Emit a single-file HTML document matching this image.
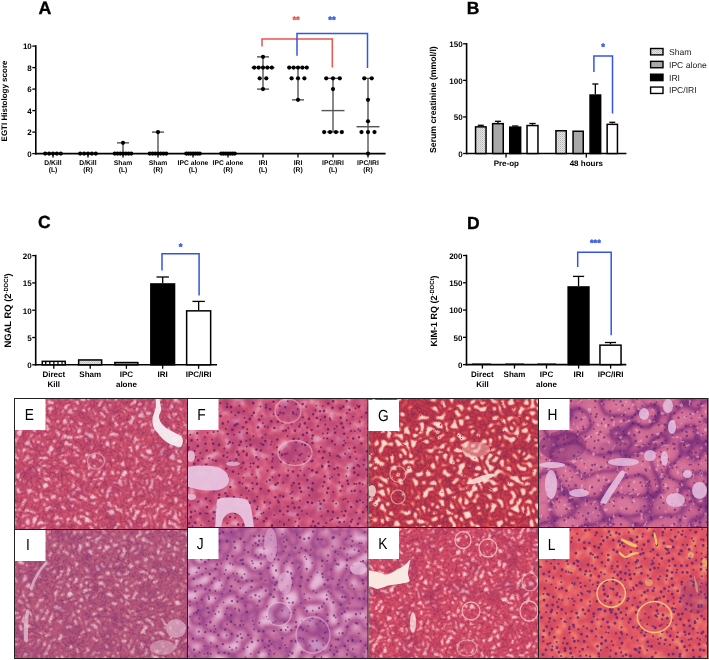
<!DOCTYPE html>
<html><head><meta charset="utf-8"><style>
html,body{margin:0;padding:0;background:#fff;width:709px;height:660px;overflow:hidden}
svg{position:absolute;left:0;top:0;display:block;will-change:transform}
text{font-family:"Liberation Sans", sans-serif;text-rendering:geometricPrecision}
</style></head><body>
<svg width="709" height="660" viewBox="0 0 709 660">
<defs>
<pattern id="dotpat" width="2" height="2" patternUnits="userSpaceOnUse"><rect width="2" height="2" fill="#e4e4e4"/><rect width="1" height="1" fill="#b8b8b8"/><rect x="1" y="1" width="1" height="1" fill="#c8c8c8"/></pattern>
<pattern id="vstripe" width="4.1" height="10" patternUnits="userSpaceOnUse"><rect width="4.1" height="10" fill="#fff"/><rect width="1.2" height="10" fill="#000"/></pattern>
</defs>
<defs>
<filter id="nb" x="-5%" y="-5%" width="110%" height="110%"><feGaussianBlur stdDeviation="0.45"/></filter>
<filter id="rE" x="0" y="0" width="100%" height="100%" color-interpolation-filters="sRGB"><feTurbulence type="turbulence" baseFrequency="0.17" numOctaves="2" seed="3"/><feColorMatrix type="matrix" values="1 0 0 0 0 1 0 0 0 0 1 0 0 0 0 0 0 0 0 1"/><feComponentTransfer><feFuncR type="table" tableValues="0.541 0.590 0.639 0.682 0.722 0.761 0.772 0.777 0.782 0.786 0.791 0.795 0.800 0.809 0.818 0.827 0.836 0.849 0.865 0.881 0.897 0.910 0.913 0.916 0.919 0.922 0.925 0.928 0.930 0.933 0.936 0.939 0.942 0.945 0.948 0.950 0.953 0.956 0.959 0.962 0.965"/><feFuncG type="table" tableValues="0.204 0.220 0.237 0.253 0.270 0.287 0.295 0.301 0.306 0.312 0.318 0.324 0.329 0.354 0.379 0.404 0.429 0.473 0.530 0.588 0.645 0.693 0.704 0.716 0.728 0.740 0.752 0.764 0.775 0.787 0.799 0.811 0.823 0.835 0.847 0.858 0.870 0.882 0.894 0.906 0.918"/><feFuncB type="table" tableValues="0.408 0.405 0.401 0.402 0.404 0.407 0.412 0.416 0.421 0.425 0.430 0.435 0.439 0.461 0.482 0.503 0.525 0.565 0.619 0.672 0.726 0.770 0.779 0.788 0.797 0.806 0.815 0.824 0.833 0.842 0.851 0.860 0.869 0.878 0.887 0.896 0.905 0.914 0.923 0.932 0.941"/></feComponentTransfer><feGaussianBlur stdDeviation="0.55"/></filter>
<filter id="fE0" x="0" y="0" width="100%" height="100%" color-interpolation-filters="sRGB"><feTurbulence type="fractalNoise" baseFrequency="0.05" numOctaves="2" seed="31"/><feColorMatrix type="matrix" values="0 0 0 0 0.604 0 0 0 0 0.212 0 0 0 0 0.439 1 0 0 0 0"/><feComponentTransfer><feFuncA type="table" tableValues="0.150 0.150 0.150 0.150 0.150 0.150 0.150 0.150 0.075 0.000 0.000 0.000 0.000 0.000 0.000 0.000 0.000 0.000 0.000 0.000 0.000"/></feComponentTransfer></filter>
<clipPath id="cpE"><rect x="15" y="399" width="172.5" height="130.5"/></clipPath>
<filter id="rF" x="0" y="0" width="100%" height="100%" color-interpolation-filters="sRGB"><feTurbulence type="fractalNoise" baseFrequency="0.1" numOctaves="2" seed="5"/><feColorMatrix type="matrix" values="1 0 0 0 0 1 0 0 0 0 1 0 0 0 0 0 0 0 0 1"/><feComponentTransfer><feFuncR type="table" tableValues="0.659 0.666 0.672 0.679 0.686 0.692 0.699 0.706 0.713 0.719 0.726 0.733 0.739 0.746 0.753 0.765 0.776 0.788 0.800 0.812 0.824 0.828 0.833 0.838 0.843 0.848 0.853 0.858 0.863 0.868 0.872 0.876 0.880 0.883 0.887 0.891 0.895 0.898 0.902 0.906 0.910"/><feFuncG type="table" tableValues="0.251 0.254 0.258 0.261 0.264 0.268 0.271 0.275 0.278 0.281 0.285 0.288 0.291 0.295 0.298 0.306 0.314 0.322 0.329 0.337 0.345 0.360 0.375 0.389 0.404 0.422 0.453 0.484 0.515 0.546 0.571 0.586 0.601 0.616 0.631 0.646 0.661 0.676 0.691 0.706 0.722"/><feFuncB type="table" tableValues="0.431 0.433 0.435 0.436 0.438 0.440 0.441 0.443 0.445 0.446 0.448 0.450 0.452 0.453 0.455 0.460 0.465 0.471 0.476 0.481 0.486 0.498 0.509 0.521 0.532 0.546 0.573 0.599 0.625 0.651 0.672 0.685 0.697 0.710 0.723 0.736 0.749 0.762 0.774 0.787 0.800"/></feComponentTransfer><feGaussianBlur stdDeviation="0.3"/></filter>
<filter id="fF0" x="0" y="0" width="100%" height="100%" color-interpolation-filters="sRGB"><feTurbulence type="fractalNoise" baseFrequency="0.04" numOctaves="2" seed="37"/><feColorMatrix type="matrix" values="0 0 0 0 0.690 0 0 0 0 0.251 0 0 0 0 0.463 1 0 0 0 0"/><feComponentTransfer><feFuncA type="table" tableValues="0.300 0.300 0.300 0.300 0.300 0.300 0.300 0.300 0.187 0.000 0.000 0.000 0.000 0.000 0.000 0.000 0.000 0.000 0.000 0.000 0.000"/></feComponentTransfer></filter>
<clipPath id="cpF"><rect x="188" y="399" width="180" height="128.5"/></clipPath>
<filter id="rG" x="0" y="0" width="100%" height="100%" color-interpolation-filters="sRGB"><feTurbulence type="turbulence" baseFrequency="0.15" numOctaves="1" seed="7"/><feColorMatrix type="matrix" values="1 0 0 0 0 1 0 0 0 0 1 0 0 0 0 0 0 0 0 1"/><feComponentTransfer><feFuncR type="table" tableValues="0.573 0.651 0.707 0.758 0.774 0.781 0.789 0.796 0.809 0.831 0.854 0.882 0.915 0.942 0.948 0.954 0.960 0.965 0.967 0.968 0.970 0.971 0.973 0.974 0.976 0.977 0.979 0.980 0.982 0.983 0.985 0.986 0.988 0.989 0.991 0.992 0.994 0.995 0.997 0.998 1.000"/><feFuncG type="table" tableValues="0.188 0.195 0.205 0.217 0.224 0.229 0.235 0.240 0.268 0.329 0.391 0.488 0.609 0.712 0.744 0.775 0.806 0.832 0.837 0.842 0.847 0.851 0.856 0.861 0.865 0.870 0.875 0.880 0.884 0.889 0.894 0.899 0.903 0.908 0.913 0.918 0.922 0.927 0.932 0.936 0.941"/><feFuncB type="table" tableValues="0.306 0.312 0.301 0.285 0.287 0.292 0.297 0.303 0.320 0.357 0.393 0.471 0.575 0.665 0.696 0.728 0.759 0.785 0.791 0.796 0.802 0.807 0.812 0.818 0.823 0.829 0.834 0.839 0.845 0.850 0.856 0.861 0.867 0.872 0.877 0.883 0.888 0.894 0.899 0.904 0.910"/></feComponentTransfer><feGaussianBlur stdDeviation="0.5"/></filter>
<clipPath id="cpG"><rect x="368.5" y="399" width="170" height="128.5"/></clipPath>
<filter id="rH" x="0" y="0" width="100%" height="100%" color-interpolation-filters="sRGB"><feTurbulence type="turbulence" baseFrequency="0.045" numOctaves="1" seed="11"/><feColorMatrix type="matrix" values="1 0 0 0 0 1 0 0 0 0 1 0 0 0 0 0 0 0 0 1"/><feComponentTransfer><feFuncR type="table" tableValues="0.494 0.556 0.627 0.706 0.749 0.786 0.794 0.802 0.809 0.817 0.821 0.825 0.830 0.834 0.838 0.843 0.847 0.848 0.850 0.851 0.852 0.854 0.855 0.856 0.858 0.859 0.860 0.861 0.863 0.864 0.865 0.867 0.868 0.869 0.871 0.872 0.873 0.875 0.876 0.877 0.878"/><feFuncG type="table" tableValues="0.196 0.235 0.280 0.329 0.360 0.386 0.396 0.406 0.416 0.425 0.430 0.436 0.441 0.446 0.452 0.457 0.463 0.464 0.466 0.468 0.469 0.471 0.473 0.474 0.476 0.477 0.479 0.481 0.482 0.484 0.486 0.487 0.489 0.491 0.492 0.494 0.495 0.497 0.499 0.500 0.502"/><feFuncB type="table" tableValues="0.471 0.510 0.531 0.541 0.550 0.558 0.564 0.570 0.576 0.581 0.584 0.588 0.591 0.594 0.597 0.601 0.604 0.606 0.607 0.609 0.610 0.612 0.614 0.615 0.617 0.619 0.620 0.622 0.624 0.625 0.627 0.628 0.630 0.632 0.633 0.635 0.637 0.638 0.640 0.642 0.643"/></feComponentTransfer><feGaussianBlur stdDeviation="0.8"/></filter>
<filter id="fH0" x="0" y="0" width="100%" height="100%" color-interpolation-filters="sRGB"><feTurbulence type="fractalNoise" baseFrequency="0.25" numOctaves="1" seed="211"/><feColorMatrix type="matrix" values="0 0 0 0 0.949 0 0 0 0 0.737 0 0 0 0 0.831 1 0 0 0 0"/><feComponentTransfer><feFuncA type="table" tableValues="0.000 0.000 0.000 0.000 0.000 0.000 0.000 0.000 0.000 0.000 0.000 0.000 0.000 0.100 0.500 0.500 0.500 0.500 0.500 0.500 0.500"/></feComponentTransfer><feGaussianBlur stdDeviation="0.6"/></filter>
<filter id="fH1" x="0" y="0" width="100%" height="100%" color-interpolation-filters="sRGB"><feTurbulence type="fractalNoise" baseFrequency="0.03" numOctaves="2" seed="212"/><feColorMatrix type="matrix" values="0 0 0 0 0.478 0 0 0 0 0.180 0 0 0 0 0.471 1 0 0 0 0"/><feComponentTransfer><feFuncA type="table" tableValues="0.200 0.200 0.200 0.200 0.200 0.200 0.200 0.125 0.000 0.000 0.000 0.000 0.000 0.000 0.000 0.000 0.000 0.000 0.000 0.000 0.000"/></feComponentTransfer></filter>
<clipPath id="cpH"><rect x="539" y="399" width="168.5" height="128.5"/></clipPath>
<filter id="rI" x="0" y="0" width="100%" height="100%" color-interpolation-filters="sRGB"><feTurbulence type="turbulence" baseFrequency="0.17" numOctaves="2" seed="13"/><feColorMatrix type="matrix" values="1 0 0 0 0 1 0 0 0 0 1 0 0 0 0 0 0 0 0 1"/><feComponentTransfer><feFuncR type="table" tableValues="0.478 0.531 0.583 0.624 0.658 0.691 0.701 0.705 0.710 0.714 0.718 0.722 0.726 0.732 0.744 0.757 0.769 0.782 0.799 0.816 0.834 0.852 0.864 0.869 0.873 0.877 0.882 0.886 0.890 0.894 0.899 0.903 0.907 0.911 0.916 0.920 0.924 0.928 0.933 0.937 0.941"/><feFuncG type="table" tableValues="0.227 0.244 0.260 0.280 0.303 0.325 0.333 0.337 0.341 0.345 0.349 0.353 0.357 0.366 0.391 0.416 0.441 0.466 0.506 0.551 0.595 0.640 0.671 0.682 0.692 0.703 0.714 0.724 0.735 0.746 0.756 0.767 0.777 0.788 0.799 0.809 0.820 0.831 0.841 0.852 0.863"/><feFuncB type="table" tableValues="0.455 0.455 0.455 0.458 0.464 0.469 0.472 0.474 0.476 0.478 0.480 0.483 0.485 0.490 0.508 0.525 0.543 0.561 0.599 0.642 0.684 0.727 0.756 0.765 0.773 0.782 0.790 0.799 0.808 0.816 0.825 0.833 0.842 0.850 0.859 0.867 0.876 0.884 0.893 0.901 0.910"/></feComponentTransfer><feGaussianBlur stdDeviation="0.55"/></filter>
<filter id="fI0" x="0" y="0" width="100%" height="100%" color-interpolation-filters="sRGB"><feTurbulence type="fractalNoise" baseFrequency="0.05" numOctaves="2" seed="47"/><feColorMatrix type="matrix" values="0 0 0 0 0.533 0 0 0 0 0.196 0 0 0 0 0.439 1 0 0 0 0"/><feComponentTransfer><feFuncA type="table" tableValues="0.200 0.200 0.200 0.200 0.200 0.200 0.200 0.200 0.125 0.000 0.000 0.000 0.000 0.000 0.000 0.000 0.000 0.000 0.000 0.000 0.000"/></feComponentTransfer></filter>
<clipPath id="cpI"><rect x="15" y="530" width="172.5" height="128.5"/></clipPath>
<filter id="rJ" x="0" y="0" width="100%" height="100%" color-interpolation-filters="sRGB"><feTurbulence type="turbulence" baseFrequency="0.07" numOctaves="1" seed="17"/><feColorMatrix type="matrix" values="1 0 0 0 0 1 0 0 0 0 1 0 0 0 0 0 0 0 0 1"/><feComponentTransfer><feFuncR type="table" tableValues="0.604 0.653 0.698 0.737 0.751 0.759 0.767 0.775 0.784 0.794 0.804 0.814 0.824 0.839 0.855 0.871 0.886 0.889 0.891 0.893 0.895 0.898 0.900 0.902 0.905 0.907 0.909 0.911 0.914 0.916 0.918 0.921 0.923 0.925 0.927 0.930 0.932 0.934 0.937 0.939 0.941"/><feFuncG type="table" tableValues="0.290 0.325 0.359 0.393 0.408 0.418 0.427 0.437 0.458 0.480 0.503 0.526 0.549 0.584 0.620 0.655 0.690 0.695 0.701 0.706 0.711 0.716 0.722 0.727 0.732 0.737 0.742 0.748 0.753 0.758 0.763 0.769 0.774 0.779 0.784 0.790 0.795 0.800 0.805 0.810 0.816"/><feFuncB type="table" tableValues="0.557 0.572 0.586 0.601 0.609 0.615 0.620 0.626 0.641 0.657 0.673 0.690 0.706 0.735 0.765 0.794 0.824 0.827 0.831 0.834 0.838 0.842 0.845 0.849 0.852 0.856 0.859 0.863 0.867 0.870 0.874 0.877 0.881 0.885 0.888 0.892 0.895 0.899 0.903 0.906 0.910"/></feComponentTransfer><feGaussianBlur stdDeviation="0.8"/></filter>
<clipPath id="cpJ"><rect x="188" y="528" width="180" height="130.5"/></clipPath>
<filter id="rK" x="0" y="0" width="100%" height="100%" color-interpolation-filters="sRGB"><feTurbulence type="turbulence" baseFrequency="0.19" numOctaves="2" seed="19"/><feColorMatrix type="matrix" values="1 0 0 0 0 1 0 0 0 0 1 0 0 0 0 0 0 0 0 1"/><feComponentTransfer><feFuncR type="table" tableValues="0.541 0.603 0.665 0.714 0.753 0.792 0.804 0.808 0.813 0.818 0.822 0.827 0.831 0.840 0.849 0.858 0.867 0.880 0.896 0.912 0.928 0.942 0.944 0.947 0.949 0.951 0.954 0.956 0.959 0.961 0.964 0.966 0.969 0.971 0.974 0.976 0.978 0.981 0.983 0.986 0.988"/><feFuncG type="table" tableValues="0.173 0.199 0.225 0.244 0.258 0.272 0.279 0.285 0.291 0.296 0.302 0.308 0.314 0.342 0.371 0.399 0.428 0.476 0.536 0.597 0.657 0.708 0.720 0.731 0.742 0.754 0.765 0.777 0.788 0.800 0.811 0.823 0.834 0.845 0.857 0.868 0.880 0.891 0.903 0.914 0.925"/><feFuncB type="table" tableValues="0.361 0.361 0.361 0.366 0.374 0.383 0.387 0.391 0.394 0.397 0.401 0.404 0.408 0.433 0.458 0.483 0.508 0.550 0.603 0.657 0.710 0.755 0.765 0.775 0.784 0.794 0.804 0.814 0.824 0.833 0.843 0.853 0.863 0.873 0.882 0.892 0.902 0.912 0.922 0.931 0.941"/></feComponentTransfer><feGaussianBlur stdDeviation="0.55"/></filter>
<filter id="fK0" x="0" y="0" width="100%" height="100%" color-interpolation-filters="sRGB"><feTurbulence type="fractalNoise" baseFrequency="0.05" numOctaves="2" seed="59"/><feColorMatrix type="matrix" values="0 0 0 0 0.604 0 0 0 0 0.188 0 0 0 0 0.376 1 0 0 0 0"/><feComponentTransfer><feFuncA type="table" tableValues="0.250 0.250 0.250 0.250 0.250 0.250 0.250 0.250 0.156 0.000 0.000 0.000 0.000 0.000 0.000 0.000 0.000 0.000 0.000 0.000 0.000"/></feComponentTransfer></filter>
<clipPath id="cpK"><rect x="368.5" y="528" width="170" height="130.5"/></clipPath>
<filter id="rL" x="0" y="0" width="100%" height="100%" color-interpolation-filters="sRGB"><feTurbulence type="fractalNoise" baseFrequency="0.1" numOctaves="2" seed="23"/><feColorMatrix type="matrix" values="1 0 0 0 0 1 0 0 0 0 1 0 0 0 0 0 0 0 0 1"/><feComponentTransfer><feFuncR type="table" tableValues="0.784 0.789 0.793 0.798 0.802 0.806 0.811 0.815 0.820 0.824 0.828 0.833 0.837 0.842 0.846 0.850 0.855 0.863 0.871 0.878 0.886 0.891 0.896 0.901 0.906 0.911 0.915 0.918 0.922 0.926 0.929 0.932 0.935 0.938 0.941 0.944 0.946 0.949 0.952 0.954 0.957"/><feFuncG type="table" tableValues="0.275 0.277 0.279 0.282 0.284 0.287 0.289 0.292 0.294 0.297 0.299 0.301 0.304 0.306 0.309 0.311 0.314 0.322 0.329 0.337 0.345 0.357 0.368 0.379 0.391 0.404 0.424 0.443 0.463 0.483 0.507 0.532 0.556 0.580 0.604 0.629 0.654 0.678 0.703 0.728 0.753"/><feFuncB type="table" tableValues="0.384 0.384 0.383 0.383 0.382 0.382 0.381 0.381 0.380 0.380 0.379 0.379 0.378 0.378 0.377 0.377 0.376 0.380 0.384 0.388 0.392 0.397 0.402 0.407 0.412 0.416 0.418 0.420 0.422 0.424 0.427 0.430 0.433 0.436 0.439 0.444 0.450 0.455 0.460 0.465 0.471"/></feComponentTransfer><feGaussianBlur stdDeviation="0.3"/></filter>
<clipPath id="cpL"><rect x="539" y="528" width="168.5" height="130.5"/></clipPath>
<filter id="soft" x="-10%" y="-10%" width="120%" height="120%"><feGaussianBlur stdDeviation="0.7"/></filter>
</defs>
<g clip-path="url(#cpE)">
<g transform="rotate(27 101.2 464.2)"><rect x="-8.8" y="354.2" width="220" height="220" filter="url(#rE)"/></g>
<rect x="15" y="399" width="172.5" height="130.5" filter="url(#fE0)"/>
<path d="M155.8,399 L159.7,399 C160,404 161.5,408 161.3,410 C160,413 158.5,416 159,418 C160,422 162,424 165,427 C170,431 177,433 181,436 C184,440 183,444 181,447 C177,447 172,445 168,443 C163,440 160,436 157,432 C153,428 152,424 152.6,418 C153,414 156,411 155.8,405 Z" fill="#f6eef4" opacity="0.95" filter="url(#soft)"/>
<ellipse cx="96.0" cy="461.0" rx="8.5" ry="8.0" fill="none" stroke="#e8b0c8" stroke-width="1.2" opacity="0.7" filter="url(#soft)"/>
</g>
<g clip-path="url(#cpF)">
<g transform="rotate(27 278.0 463.2)"><rect x="165.5" y="350.8" width="225" height="225" filter="url(#rF)"/></g>
<rect x="188" y="399" width="180" height="128.5" filter="url(#fF0)"/>
<path d="M204.9 406.5h0M220.3 403.0h0M227.2 404.0h0M239.5 405.8h0M260.5 406.4h0M266.2 404.7h0M279.7 405.9h0M287.8 401.1h0M296.1 404.0h0M306.3 406.7h0M316.4 405.6h0M322.8 406.1h0M357.3 405.4h0M359.6 406.0h0M189.4 409.3h0M198.1 410.2h0M206.4 412.0h0M213.4 410.0h0M218.4 409.2h0M231.4 412.2h0M243.8 411.3h0M297.7 409.3h0M315.4 410.5h0M355.6 408.5h0M368.2 408.3h0M211.7 416.1h0M235.3 415.1h0M244.7 417.8h0M251.9 415.5h0M261.6 415.9h0M273.6 414.3h0M278.4 414.9h0M296.3 414.6h0M302.9 417.2h0M329.8 418.2h0M346.8 413.2h0M353.1 416.6h0M361.6 417.0h0M193.4 423.2h0M207.3 420.5h0M216.8 424.2h0M227.9 421.8h0M262.9 423.1h0M282.5 422.9h0M291.5 423.9h0M300.3 424.1h0M320.5 419.7h0M325.4 424.5h0M330.4 420.0h0M346.8 420.3h0M350.3 423.5h0M359.6 421.6h0M190.7 429.0h0M197.4 426.3h0M200.0 425.2h0M208.1 426.9h0M225.9 429.0h0M247.4 429.2h0M264.9 426.4h0M267.8 427.2h0M288.3 428.2h0M307.1 427.4h0M334.3 428.7h0M336.8 426.3h0M358.4 429.1h0M190.3 434.8h0M207.7 432.8h0M213.7 432.0h0M217.7 431.5h0M234.0 434.7h0M239.6 432.2h0M253.4 436.0h0M265.4 434.6h0M283.2 431.0h0M287.6 435.9h0M322.9 433.5h0M327.4 433.2h0M351.1 430.9h0M354.7 431.1h0M360.1 430.8h0M368.1 435.2h0M197.4 439.7h0M205.0 437.1h0M212.0 439.8h0M246.3 441.0h0M250.0 439.7h0M262.2 437.6h0M271.7 441.8h0M298.7 438.7h0M306.9 442.1h0M312.0 438.5h0M323.6 438.3h0M327.1 438.5h0M344.1 440.6h0M347.6 437.6h0M228.3 443.8h0M232.8 443.0h0M246.7 446.4h0M261.1 443.4h0M270.9 444.4h0M277.1 447.3h0M296.1 442.3h0M302.2 444.3h0M320.9 447.2h0M335.1 444.4h0M345.5 443.0h0M194.7 451.0h0M200.2 453.0h0M224.3 448.5h0M227.4 452.6h0M246.9 453.5h0M287.2 453.5h0M295.6 450.2h0M301.7 453.9h0M311.8 454.0h0M329.5 453.2h0M345.1 453.8h0M349.3 448.5h0M355.3 451.8h0M195.5 456.9h0M202.3 458.6h0M209.1 458.2h0M212.9 459.9h0M227.3 457.3h0M258.4 459.5h0M266.5 459.3h0M272.8 458.8h0M298.1 460.0h0M308.7 456.2h0M329.9 455.4h0M340.0 457.3h0M356.4 458.7h0M364.3 459.9h0M230.1 460.6h0M234.2 461.7h0M250.6 463.5h0M272.1 461.3h0M293.7 461.1h0M312.8 460.5h0M321.8 465.4h0M363.5 464.7h0M215.5 467.6h0M241.3 467.6h0M245.7 469.1h0M250.4 466.8h0M267.5 470.8h0M288.2 470.5h0M300.4 470.6h0M309.1 468.6h0M347.4 467.9h0M359.5 466.4h0M208.3 475.8h0M238.6 473.7h0M243.3 477.6h0M251.9 474.5h0M256.2 477.5h0M272.4 477.2h0M304.3 475.3h0M317.3 472.1h0M331.9 477.1h0M346.4 476.1h0M193.4 481.8h0M212.1 483.5h0M242.4 483.5h0M252.3 483.0h0M266.7 481.5h0M283.1 482.7h0M329.9 478.6h0M339.2 482.3h0M354.1 483.7h0M368.5 482.4h0M188.8 487.6h0M207.6 488.4h0M211.1 487.6h0M252.8 488.8h0M291.7 485.8h0M323.0 486.3h0M356.2 484.0h0M362.7 484.3h0M241.3 495.1h0M248.8 490.7h0M280.0 495.7h0M290.6 493.8h0M292.5 491.9h0M309.3 495.4h0M333.2 492.0h0M340.6 490.8h0M351.6 491.0h0M360.3 491.4h0M188.0 499.5h0M198.8 501.1h0M210.4 500.9h0M246.8 497.9h0M257.2 496.8h0M277.8 500.4h0M292.0 498.0h0M300.0 500.8h0M307.4 501.6h0M319.5 501.1h0M333.0 500.9h0M343.4 499.6h0M345.4 498.8h0M360.1 500.3h0M189.7 505.3h0M197.7 502.1h0M229.4 504.5h0M243.8 503.8h0M257.6 506.5h0M270.1 502.8h0M292.7 503.0h0M336.1 503.6h0M347.8 501.7h0M363.0 502.5h0M195.0 510.9h0M205.7 513.1h0M216.2 512.1h0M242.6 511.3h0M248.7 509.7h0M263.5 512.7h0M269.3 508.5h0M302.0 511.0h0M320.3 508.8h0M341.8 511.6h0M356.3 512.5h0M207.6 513.6h0M223.2 518.5h0M235.1 517.8h0M245.8 517.4h0M261.5 513.8h0M274.5 515.2h0M283.3 514.6h0M299.5 518.7h0M306.9 513.6h0M321.5 516.2h0M332.2 519.2h0M352.1 519.4h0M201.2 525.1h0M208.8 521.1h0M227.3 523.3h0M257.4 519.2h0M272.2 525.3h0M279.8 521.6h0M284.0 523.8h0M288.9 520.0h0M295.5 521.5h0M326.4 523.0h0M330.3 520.2h0M344.1 521.7h0M192.4 526.2h0M198.7 528.5h0M220.2 525.8h0M262.0 530.1h0M283.9 525.2h0M293.6 527.1h0M298.7 525.9h0M311.0 526.1h0M327.1 530.1h0M339.1 527.9h0M349.6 526.3h0M356.9 527.7h0M361.3 529.1h0M368.0 530.4h0" stroke="#6a1e66" stroke-width="1.95" stroke-linecap="round" opacity="0.85" filter="url(#nb)"/>
<path d="M196.4 406.6h0M230.9 406.9h0M253.3 403.1h0M273.6 401.8h0M302.6 404.1h0M328.3 403.6h0M333.2 401.3h0M343.3 406.6h0M346.7 401.1h0M227.0 407.0h0M238.5 412.5h0M253.8 412.9h0M266.0 407.5h0M270.2 409.3h0M280.3 412.7h0M285.3 407.3h0M293.0 412.4h0M320.1 411.3h0M324.0 410.9h0M332.5 407.8h0M340.6 408.4h0M349.5 409.7h0M358.7 407.1h0M195.6 415.6h0M220.6 416.1h0M283.3 413.2h0M293.3 413.6h0M313.1 414.3h0M316.9 418.0h0M324.9 416.9h0M340.7 417.8h0M366.3 412.7h0M190.6 423.7h0M204.1 421.8h0M222.8 423.5h0M237.2 424.0h0M246.2 422.2h0M249.9 418.9h0M259.2 419.8h0M271.3 421.3h0M277.7 421.8h0M304.9 423.4h0M309.0 418.9h0M341.4 423.4h0M368.5 421.2h0M215.7 425.1h0M232.4 429.8h0M235.0 425.4h0M243.0 427.2h0M258.1 427.4h0M274.3 428.0h0M285.8 430.5h0M299.4 426.4h0M311.7 430.1h0M317.9 426.3h0M328.0 429.2h0M343.1 427.5h0M368.1 428.3h0M197.3 433.2h0M227.7 434.0h0M246.9 433.1h0M294.9 430.8h0M303.1 434.9h0M306.9 432.8h0M312.8 435.5h0M335.1 432.8h0M344.2 433.7h0M191.5 440.4h0M229.8 442.1h0M240.8 441.9h0M265.4 441.1h0M277.3 439.5h0M293.7 439.1h0M332.1 441.2h0M353.3 438.6h0M359.1 437.2h0M371.2 441.2h0M188.6 447.5h0M197.8 446.1h0M205.5 443.7h0M213.2 443.6h0M219.0 444.9h0M239.4 445.0h0M250.6 445.1h0M263.2 444.7h0M305.1 444.9h0M312.4 443.0h0M343.5 445.2h0M354.5 447.8h0M361.5 443.5h0M370.1 446.2h0M187.9 449.1h0M206.7 450.6h0M214.3 450.3h0M237.4 451.9h0M243.5 451.3h0M256.5 449.5h0M260.7 450.5h0M272.7 454.3h0M279.0 452.2h0M285.2 454.0h0M319.1 451.5h0M324.3 451.8h0M366.8 451.3h0M223.5 455.8h0M236.2 459.5h0M238.6 454.6h0M246.7 455.2h0M256.4 457.3h0M282.1 454.7h0M299.8 455.2h0M322.7 457.9h0M337.8 456.0h0M350.0 457.2h0M194.2 463.8h0M198.3 460.3h0M206.2 464.8h0M215.9 460.7h0M243.2 462.7h0M253.5 463.3h0M281.1 461.6h0M287.6 463.8h0M304.5 462.0h0M311.5 461.3h0M328.5 461.9h0M358.0 465.3h0M189.4 471.2h0M194.8 470.5h0M201.8 466.2h0M208.5 470.5h0M226.3 468.7h0M233.1 471.6h0M257.9 466.9h0M272.1 467.5h0M293.0 471.5h0M312.2 470.4h0M322.4 466.7h0M329.0 466.0h0M334.5 469.0h0M337.6 467.7h0M353.9 468.1h0M366.6 469.5h0M192.1 472.2h0M198.8 477.3h0M205.6 477.2h0M227.9 476.6h0M279.2 475.4h0M287.6 475.5h0M297.9 475.5h0M316.4 472.6h0M324.7 476.5h0M338.7 474.8h0M354.4 472.6h0M358.2 475.0h0M368.2 475.8h0M191.1 480.4h0M205.0 479.5h0M217.9 483.6h0M224.4 483.7h0M239.6 482.5h0M257.0 483.9h0M269.8 480.0h0M277.7 483.1h0M293.6 483.1h0M299.0 483.8h0M307.3 480.1h0M312.9 483.3h0M324.2 482.0h0M347.4 480.7h0M359.6 483.2h0M196.4 484.7h0M223.3 486.5h0M230.2 487.0h0M246.3 488.1h0M260.7 488.7h0M275.6 484.6h0M300.0 488.1h0M308.5 487.7h0M311.9 488.9h0M328.1 488.4h0M342.3 486.2h0M348.2 483.9h0M369.4 487.1h0M214.0 490.3h0M219.2 494.7h0M225.4 493.3h0M268.7 490.7h0M301.1 491.7h0M312.5 490.1h0M327.1 492.8h0M354.8 490.8h0M367.9 494.5h0M206.0 498.5h0M218.7 498.0h0M227.2 496.2h0M233.9 497.2h0M239.9 498.7h0M254.5 501.1h0M275.3 497.2h0M283.3 496.5h0M324.1 500.4h0M357.1 501.4h0M368.2 500.0h0M206.9 507.1h0M217.0 507.4h0M225.5 506.7h0M241.1 503.1h0M249.7 502.8h0M264.6 502.3h0M278.7 502.3h0M287.9 506.5h0M299.1 507.5h0M307.9 502.3h0M312.1 502.9h0M320.6 503.7h0M351.2 507.0h0M367.0 506.7h0M191.2 512.1h0M213.7 512.2h0M233.4 508.2h0M235.5 513.1h0M256.9 509.1h0M280.1 510.9h0M287.6 511.2h0M294.4 507.8h0M327.9 511.2h0M333.1 512.0h0M345.5 511.1h0M363.0 512.3h0M368.5 509.3h0M190.8 517.1h0M200.2 513.6h0M213.2 518.5h0M230.1 517.0h0M239.2 513.6h0M254.8 518.2h0M266.4 518.5h0M297.6 514.7h0M337.7 518.0h0M344.1 515.5h0M359.5 518.5h0M189.2 523.3h0M195.2 522.7h0M217.1 523.9h0M238.3 524.5h0M243.3 524.5h0M249.7 520.3h0M263.9 521.3h0M313.1 521.5h0M318.5 523.5h0M339.6 522.3h0M351.2 521.6h0M357.9 523.7h0M368.1 522.2h0M207.6 529.3h0M210.9 527.8h0M223.5 530.1h0M231.0 530.2h0M245.9 528.7h0M251.9 530.6h0M272.0 525.9h0M290.5 528.5h0M315.2 526.3h0M323.6 527.3h0M337.5 527.4h0" stroke="#6a1e66" stroke-width="2.64" stroke-linecap="round" opacity="0.85" filter="url(#nb)"/>
<path d="M188,467 C196,465 208,465 217,467 C224,469 229,474 229,480 C229,486 223,490 214,490.5 C204,491 195,489 188,487 Z" fill="#e8c4e0" opacity="0.95" filter="url(#soft)"/>
<path d="M218,499 C226,497 240,497 247,500 C251,504 252,512 253,520 C253.5,524 254,527 254,528 L245,528 C245,520 240,513 233,512.5 C226,512.5 222,518 221,528 L215,528 C216,520 216,510 216.5,504 C217,501 217,500 218,499 Z" fill="#e8c4e0" opacity="0.95" filter="url(#soft)"/>
<ellipse cx="191.0" cy="456.2" rx="4.0" ry="5.8" fill="#e8c4e0" opacity="0.85" filter="url(#soft)"/>
<ellipse cx="191.5" cy="497.0" rx="4.5" ry="3.0" fill="#e8c4e0" opacity="0.8" filter="url(#soft)"/>
<ellipse cx="233.0" cy="463.8" rx="7.0" ry="2.2" fill="#e8c4e0" opacity="0.7" filter="url(#soft)"/>
<ellipse cx="288.0" cy="411.0" rx="13.0" ry="12.0" fill="none" stroke="#eec8dc" stroke-width="1.4" opacity="0.5" filter="url(#soft)"/>
<ellipse cx="288.0" cy="411.0" rx="10.0" ry="10.0" fill="#9a3a80" opacity="0.3" filter="url(#soft)"/>
<ellipse cx="295.0" cy="453.0" rx="17.0" ry="12.5" fill="none" stroke="#eec8dc" stroke-width="1.5" opacity="0.55" filter="url(#soft)"/>
<ellipse cx="295.0" cy="453.0" rx="13.0" ry="10.0" fill="#9a3a80" opacity="0.3" filter="url(#soft)"/>
</g>
<g clip-path="url(#cpG)">
<g transform="rotate(27 453.5 463.2)"><rect x="345.0" y="354.8" width="217" height="217" filter="url(#rG)"/></g>
<ellipse cx="476.0" cy="449.5" rx="14.0" ry="7.5" fill="#f0b8b4" opacity="0.5" filter="url(#soft)"/>
<path d="M466,483 C472,479 480,476 488,474 C492,473 495,473 494,476 C490,479 484,481 478,483 C473,484.5 469,485 466,483 Z" fill="#f8e0d8" opacity="0.9" filter="url(#soft)"/>
<ellipse cx="372.0" cy="491.0" rx="4.0" ry="6.0" fill="#f6d8cc" opacity="0.85" filter="url(#soft)"/>
<ellipse cx="398.0" cy="474.0" rx="8.0" ry="8.0" fill="none" stroke="#f0c0b8" stroke-width="1.2" opacity="0.7" filter="url(#soft)"/>
<ellipse cx="398.0" cy="497.0" rx="7.0" ry="7.0" fill="none" stroke="#f0c0b8" stroke-width="1.2" opacity="0.7" filter="url(#soft)"/>
</g>
<g clip-path="url(#cpH)">
<g transform="rotate(27 623.2 463.2)"><rect x="515.8" y="355.8" width="215" height="215" filter="url(#rH)"/></g>
<rect x="539" y="399" width="168.5" height="128.5" filter="url(#fH0)"/>
<rect x="539" y="399" width="168.5" height="128.5" filter="url(#fH1)"/>
<path d="M554.2 401.6h0M601.9 401.0h0M609.5 399.5h0M613.7 400.7h0M636.8 399.2h0M650.3 403.1h0M656.4 402.1h0M691.1 403.7h0M701.2 403.7h0M564.6 404.8h0M571.1 409.6h0M595.0 407.3h0M604.0 404.4h0M616.0 404.6h0M642.2 405.8h0M671.6 407.6h0M697.6 405.2h0M708.5 405.0h0M582.3 412.2h0M590.9 414.0h0M623.9 414.7h0M651.7 416.1h0M665.6 414.9h0M682.1 412.6h0M690.6 414.1h0M695.4 412.0h0M589.9 420.5h0M614.0 416.3h0M641.5 418.7h0M686.2 416.4h0M691.4 418.3h0M709.1 416.9h0M546.7 426.7h0M583.2 426.4h0M593.9 422.3h0M601.6 423.5h0M618.3 427.0h0M638.5 424.4h0M651.3 424.2h0M671.8 426.8h0M706.1 422.5h0M544.8 430.6h0M577.8 431.5h0M593.9 428.8h0M610.4 430.6h0M623.2 431.3h0M664.7 429.9h0M672.0 430.0h0M681.9 430.5h0M693.5 431.7h0M702.6 433.6h0M547.4 436.5h0M591.0 436.9h0M599.0 434.5h0M618.1 435.0h0M672.2 435.0h0M682.3 440.3h0M695.2 437.4h0M707.2 435.9h0M585.8 441.7h0M594.6 441.0h0M616.5 443.1h0M620.3 444.7h0M625.4 443.7h0M643.4 444.5h0M649.1 444.1h0M656.0 445.0h0M675.0 444.3h0M553.4 451.6h0M558.9 452.5h0M565.9 449.3h0M578.4 452.3h0M589.1 450.1h0M637.2 446.7h0M650.1 450.7h0M660.8 451.7h0M667.5 449.0h0M685.4 447.4h0M689.4 451.4h0M705.6 451.1h0M538.1 453.1h0M550.9 456.8h0M557.2 457.7h0M580.5 458.7h0M646.9 456.9h0M655.6 454.9h0M691.9 452.5h0M707.0 453.7h0M546.2 459.5h0M551.6 461.7h0M561.3 462.6h0M568.3 464.5h0M576.7 459.1h0M584.3 463.8h0M607.5 462.4h0M643.0 461.4h0M689.4 464.7h0M691.2 464.7h0M698.5 464.5h0M705.7 460.2h0M549.1 465.8h0M553.5 465.4h0M579.1 470.3h0M608.2 467.6h0M621.5 464.8h0M628.3 469.1h0M661.3 469.9h0M672.5 468.2h0M676.8 467.2h0M693.2 470.2h0M700.5 470.4h0M555.8 471.9h0M563.6 475.5h0M570.1 470.8h0M579.8 472.0h0M617.1 471.8h0M634.7 475.3h0M646.3 470.9h0M662.5 472.2h0M665.1 476.5h0M540.3 477.6h0M550.2 477.3h0M572.2 477.2h0M655.0 479.8h0M662.8 478.9h0M673.3 479.6h0M681.6 481.2h0M694.0 482.7h0M703.8 481.2h0M564.6 487.8h0M568.8 485.5h0M604.1 486.3h0M642.2 486.1h0M645.6 485.8h0M655.7 484.5h0M663.7 485.2h0M689.0 488.5h0M585.0 489.5h0M663.6 490.2h0M673.4 493.4h0M679.0 492.8h0M550.6 501.3h0M572.3 500.2h0M580.2 496.0h0M597.8 499.4h0M606.3 499.9h0M613.9 501.0h0M632.8 497.3h0M653.2 497.2h0M690.9 501.2h0M551.8 504.4h0M559.5 502.2h0M568.2 501.8h0M570.2 501.8h0M591.1 503.8h0M609.5 502.1h0M613.8 506.0h0M632.3 502.3h0M652.4 506.0h0M689.6 501.8h0M556.5 507.4h0M571.7 510.3h0M578.6 512.8h0M600.0 510.1h0M636.7 511.2h0M659.7 507.8h0M689.2 510.3h0M548.2 517.7h0M557.2 517.7h0M574.6 517.6h0M583.0 515.7h0M598.4 515.5h0M602.8 519.4h0M621.2 516.5h0M643.5 517.7h0M677.0 517.1h0M696.5 516.1h0M545.2 521.9h0M572.4 525.7h0M581.7 525.6h0M604.4 521.3h0M607.9 524.4h0M635.4 522.7h0M662.8 525.4h0M554.1 527.5h0M573.0 525.7h0M599.1 527.0h0M610.6 529.2h0M628.6 530.7h0M639.0 527.6h0M646.5 529.6h0M659.7 528.1h0M666.2 529.1h0M680.6 525.7h0" stroke="#5a2070" stroke-width="1.78" stroke-linecap="round" opacity="0.65" filter="url(#nb)"/>
<path d="M557.9 401.6h0M570.9 401.0h0M595.3 401.1h0M620.7 401.4h0M631.5 397.7h0M665.8 401.4h0M675.4 397.7h0M547.8 406.7h0M579.5 408.2h0M622.6 405.4h0M628.9 408.6h0M654.9 404.4h0M676.2 406.4h0M542.0 412.7h0M545.4 415.7h0M555.0 414.3h0M566.3 412.1h0M596.8 414.1h0M610.1 411.3h0M634.8 415.0h0M644.9 411.1h0M658.3 413.2h0M674.3 413.4h0M702.2 415.9h0M710.6 412.5h0M562.6 418.5h0M565.6 418.5h0M576.2 417.8h0M581.3 419.4h0M595.8 416.7h0M604.1 419.2h0M611.7 420.1h0M623.8 420.4h0M632.3 417.4h0M655.1 416.2h0M678.5 417.7h0M699.6 421.7h0M608.4 425.2h0M632.9 423.3h0M641.1 426.8h0M658.6 425.1h0M665.1 424.6h0M686.0 426.0h0M694.4 425.9h0M560.4 429.8h0M566.3 430.3h0M583.5 428.8h0M600.4 431.9h0M639.2 432.3h0M661.2 433.1h0M686.5 431.9h0M544.1 439.0h0M558.2 439.1h0M563.9 439.5h0M567.6 437.7h0M576.9 437.1h0M585.5 436.5h0M604.2 437.4h0M624.6 435.0h0M634.3 435.1h0M646.8 436.8h0M652.5 435.0h0M658.4 438.0h0M665.5 440.1h0M686.9 436.0h0M544.1 445.9h0M556.7 445.6h0M564.6 444.1h0M569.4 443.6h0M598.3 440.3h0M635.6 441.2h0M662.1 442.9h0M673.4 443.7h0M684.1 445.1h0M697.5 443.4h0M706.1 440.9h0M543.1 446.8h0M594.3 447.9h0M602.7 448.9h0M608.5 451.9h0M620.7 451.8h0M639.4 447.2h0M654.5 448.5h0M674.2 448.5h0M695.8 452.4h0M574.0 455.8h0M604.0 457.2h0M610.8 453.2h0M621.0 454.0h0M625.9 455.3h0M629.9 457.4h0M637.9 455.9h0M659.5 456.8h0M664.9 455.1h0M679.7 456.5h0M699.8 458.5h0M595.0 464.6h0M614.1 459.9h0M660.8 462.3h0M667.6 459.2h0M674.7 463.2h0M575.5 467.2h0M591.2 470.0h0M592.3 465.1h0M601.2 466.9h0M645.6 469.5h0M664.0 465.7h0M708.8 470.2h0M547.7 472.9h0M584.7 473.3h0M625.8 474.4h0M638.6 474.2h0M683.5 472.3h0M701.5 473.4h0M557.3 477.6h0M566.3 481.1h0M581.7 479.1h0M598.7 480.5h0M606.3 479.9h0M626.7 477.4h0M640.5 482.4h0M649.5 481.5h0M669.7 477.8h0M547.4 486.9h0M558.5 489.0h0M575.9 485.4h0M592.1 487.3h0M609.8 484.8h0M617.9 485.1h0M628.8 486.1h0M667.9 488.3h0M679.9 484.1h0M706.5 484.7h0M538.3 492.1h0M547.5 492.3h0M564.0 494.8h0M576.7 489.6h0M594.5 493.7h0M617.9 492.7h0M633.4 489.6h0M647.8 493.0h0M650.7 495.0h0M656.4 491.9h0M687.3 495.3h0M695.5 491.0h0M702.1 490.2h0M706.6 492.1h0M548.7 497.8h0M557.0 499.2h0M569.4 500.3h0M586.8 501.0h0M622.4 497.8h0M645.1 496.3h0M660.9 497.4h0M681.8 496.6h0M685.1 500.1h0M698.4 497.2h0M603.9 504.1h0M644.5 506.3h0M663.5 502.9h0M672.2 503.4h0M676.1 505.5h0M700.5 507.2h0M706.9 505.9h0M566.5 509.1h0M588.2 513.2h0M595.9 508.3h0M626.4 508.7h0M640.6 510.9h0M674.8 509.7h0M698.9 509.9h0M706.6 508.1h0M539.1 519.2h0M568.4 517.5h0M586.2 519.3h0M611.4 518.3h0M619.9 515.9h0M650.8 517.4h0M671.1 517.1h0M685.2 516.6h0M554.6 520.8h0M564.5 520.3h0M585.0 524.8h0M613.6 524.1h0M621.0 524.5h0M651.6 519.6h0M674.1 524.2h0M680.4 519.7h0M695.8 520.7h0M699.8 522.4h0M706.8 522.1h0M539.4 530.2h0M549.1 527.3h0M579.1 527.0h0M587.5 525.6h0M604.7 527.0h0M634.8 531.6h0M697.3 527.2h0M704.2 531.0h0" stroke="#5a2070" stroke-width="2.42" stroke-linecap="round" opacity="0.65" filter="url(#nb)"/>
<ellipse cx="562.5" cy="446.0" rx="23.5" ry="15.0" fill="#7a2a72" opacity="0.45" filter="url(#soft)"/>
<ellipse cx="552.0" cy="465.0" rx="13.0" ry="3.0" fill="#e8c4e4" opacity="0.85" filter="url(#soft)"/>
<ellipse cx="551.0" cy="484.5" rx="6.0" ry="14.5" fill="#e8c4e4" opacity="0.8" filter="url(#soft)"/>
<ellipse cx="579.0" cy="493.0" rx="10.0" ry="4.0" fill="#e8c4e4" opacity="0.8" filter="url(#soft)"/>
<path d="M600,503 C604,494 612,483 620,472 C623,469 626,471 624,476 C618,486 611,496 606,504 Z" fill="#e8c4e4" opacity="0.85" filter="url(#soft)"/>
<ellipse cx="623.5" cy="462.0" rx="15.5" ry="4.0" fill="#e8c4e4" opacity="0.8" filter="url(#soft)"/>
<ellipse cx="672.0" cy="427.0" rx="4.0" ry="7.0" fill="#e8c4e4" opacity="0.85" filter="url(#soft)"/>
<ellipse cx="687.5" cy="474.0" rx="4.5" ry="4.0" fill="#e8c4e4" opacity="0.85" filter="url(#soft)"/>
<ellipse cx="699.5" cy="490.5" rx="7.5" ry="8.5" fill="#e8c4e4" opacity="0.85" filter="url(#soft)"/>
<ellipse cx="664.5" cy="458.5" rx="3.5" ry="7.5" fill="#e8c4e4" opacity="0.8" filter="url(#soft)"/>
<ellipse cx="644.0" cy="414.0" rx="5.0" ry="6.0" fill="#e8c4e4" opacity="0.8" filter="url(#soft)"/>
<ellipse cx="668.0" cy="406.0" rx="5.0" ry="7.0" fill="#e8c4e4" opacity="0.8" filter="url(#soft)"/>
<ellipse cx="650.0" cy="455.5" rx="6.0" ry="5.5" fill="#e8c4e4" opacity="0.8" filter="url(#soft)"/>
<ellipse cx="675.5" cy="500.0" rx="9.5" ry="7.0" fill="#e8c4e4" opacity="0.8" filter="url(#soft)"/>
</g>
<g clip-path="url(#cpI)">
<g transform="rotate(27 101.2 594.2)"><rect x="-8.2" y="484.8" width="219" height="219" filter="url(#rI)"/></g>
<rect x="15" y="530" width="172.5" height="128.5" filter="url(#fI0)"/>
<path d="M24,640 C23,630 24,620 26,611 C27,608 29,609 29,612 C28,621 28,631 28,641 C27,643 25,643 24,640 Z" fill="#e2c0d4" opacity="0.8" filter="url(#soft)"/>
<path d="M30,588 C33,578 38,570 45,562 C47,561 48,563 46,565 C40,572 35,580 33,589 C32,591 30,591 30,588 Z" fill="#e2c0d4" opacity="0.75" filter="url(#soft)"/>
<ellipse cx="176.0" cy="628.5" rx="10.0" ry="9.5" fill="#e6c4d8" opacity="0.6" filter="url(#soft)"/>
<ellipse cx="162.5" cy="647.5" rx="12.5" ry="7.5" fill="#e2bcd0" opacity="0.5" filter="url(#soft)"/>
</g>
<g clip-path="url(#cpJ)">
<g transform="rotate(27 278.0 593.2)"><rect x="165.0" y="480.2" width="226" height="226" filter="url(#rJ)"/></g>
<path d="M187.6 534.6h0M197.4 532.1h0M231.4 532.2h0M263.4 536.5h0M282.3 534.3h0M296.9 534.8h0M332.7 536.6h0M339.6 534.6h0M350.8 536.2h0M364.8 531.9h0M283.7 541.7h0M286.8 540.0h0M321.7 539.3h0M345.9 539.2h0M359.7 543.2h0M361.7 543.3h0M200.6 549.8h0M209.4 546.2h0M252.9 545.4h0M301.2 548.0h0M310.8 549.7h0M332.5 546.3h0M340.6 548.0h0M351.6 546.1h0M368.1 547.1h0M205.5 553.6h0M216.5 551.9h0M219.0 550.4h0M244.5 550.1h0M255.8 555.5h0M276.4 555.1h0M283.5 551.4h0M289.2 554.8h0M299.4 552.6h0M310.3 555.2h0M338.1 554.3h0M347.3 554.3h0M354.6 549.8h0M365.5 552.0h0M191.1 556.2h0M198.4 557.1h0M252.0 560.9h0M258.5 557.4h0M286.8 561.3h0M305.0 556.8h0M306.4 559.0h0M327.4 560.9h0M335.1 560.5h0M350.4 558.2h0M360.8 561.7h0M221.4 563.5h0M230.2 563.5h0M232.8 564.4h0M252.8 563.3h0M255.2 568.0h0M272.9 565.6h0M284.2 563.2h0M299.3 567.1h0M312.2 562.8h0M321.8 566.1h0M336.4 564.0h0M186.8 573.0h0M196.5 572.3h0M209.6 573.6h0M225.9 570.0h0M233.3 573.4h0M237.1 573.6h0M244.5 574.1h0M298.1 568.5h0M317.4 572.3h0M331.2 569.3h0M346.2 568.6h0M351.0 572.8h0M202.3 574.4h0M224.3 574.1h0M235.2 579.8h0M261.0 578.3h0M311.3 576.6h0M322.7 577.2h0M333.0 578.8h0M339.2 580.2h0M346.3 580.2h0M186.6 585.6h0M197.4 585.8h0M211.9 582.8h0M219.6 580.3h0M221.8 585.4h0M246.7 580.9h0M265.4 580.3h0M300.0 585.9h0M337.8 584.6h0M352.0 585.3h0M215.3 591.0h0M240.2 588.1h0M245.9 592.2h0M261.4 587.4h0M313.4 590.9h0M328.3 591.7h0M353.9 588.8h0M365.2 590.8h0M195.2 598.2h0M208.6 596.7h0M215.5 598.3h0M222.2 593.8h0M237.2 596.8h0M243.1 598.3h0M251.1 597.3h0M259.3 596.3h0M282.7 598.2h0M304.2 594.1h0M309.3 598.3h0M316.4 592.6h0M326.6 595.1h0M330.7 593.4h0M190.0 601.3h0M196.9 602.8h0M223.5 602.4h0M289.0 602.6h0M300.7 603.2h0M305.3 599.8h0M323.9 603.4h0M349.4 603.4h0M189.9 605.6h0M213.7 610.7h0M217.2 606.3h0M227.2 608.2h0M235.0 608.7h0M238.8 609.4h0M245.4 605.8h0M257.5 605.6h0M266.9 606.5h0M282.1 610.5h0M294.9 609.9h0M304.1 608.0h0M312.7 610.7h0M347.5 608.0h0M193.9 613.3h0M215.3 613.9h0M218.8 611.8h0M225.1 614.2h0M239.5 611.0h0M266.7 616.6h0M289.9 612.6h0M294.0 612.8h0M316.5 614.5h0M360.4 613.5h0M368.9 615.3h0M190.0 616.8h0M199.3 618.5h0M241.3 621.1h0M252.8 620.8h0M259.3 622.8h0M268.3 619.2h0M275.4 621.5h0M284.6 621.8h0M301.7 621.2h0M309.8 620.7h0M320.3 620.9h0M335.7 617.3h0M345.7 621.1h0M349.1 619.6h0M365.7 617.3h0M199.7 623.9h0M206.4 625.0h0M214.3 625.9h0M215.5 628.9h0M227.1 624.2h0M235.0 624.6h0M243.3 624.8h0M254.1 624.3h0M273.0 622.9h0M287.8 627.2h0M308.4 626.2h0M316.7 624.0h0M338.3 623.7h0M210.7 631.0h0M214.4 632.0h0M240.5 634.2h0M254.1 629.3h0M285.8 630.0h0M306.5 631.3h0M326.7 632.0h0M339.2 633.1h0M358.8 633.3h0M203.3 638.1h0M226.5 635.5h0M251.0 638.4h0M262.5 640.2h0M299.9 637.7h0M303.1 638.8h0M336.0 639.4h0M188.1 646.6h0M204.4 646.2h0M210.9 642.9h0M229.6 647.2h0M237.1 641.9h0M247.6 647.2h0M262.6 641.1h0M271.4 644.2h0M285.1 645.2h0M309.8 645.6h0M323.4 645.1h0M335.8 647.0h0M352.3 641.1h0M199.4 652.3h0M232.1 649.7h0M236.3 647.9h0M243.6 648.6h0M264.8 647.4h0M270.0 650.4h0M286.4 647.8h0M290.1 651.8h0M322.7 650.7h0M330.1 650.0h0M348.0 649.8h0M352.8 649.2h0M364.4 651.9h0M189.1 656.1h0M194.8 656.1h0M204.4 653.9h0M210.8 653.9h0M245.4 657.5h0M250.7 653.8h0M256.2 658.7h0M268.9 654.3h0M274.3 653.7h0M288.5 655.6h0M302.0 659.5h0M321.5 657.2h0M355.0 656.9h0M362.6 657.8h0" stroke="#5e2674" stroke-width="1.78" stroke-linecap="round" opacity="0.7" filter="url(#nb)"/>
<path d="M200.4 533.7h0M212.2 534.8h0M219.6 533.7h0M222.9 532.2h0M254.4 536.2h0M259.1 535.8h0M271.3 535.4h0M300.0 537.4h0M313.2 531.6h0M203.1 543.1h0M219.2 541.2h0M226.9 541.3h0M234.3 541.7h0M240.5 538.8h0M244.4 542.1h0M255.5 543.3h0M259.2 540.7h0M263.6 540.6h0M270.9 539.5h0M304.3 538.9h0M308.8 538.0h0M317.8 539.3h0M332.6 538.3h0M334.0 537.5h0M352.5 541.1h0M187.5 548.2h0M217.0 544.1h0M235.1 547.7h0M258.0 545.2h0M264.4 548.6h0M276.2 547.2h0M285.5 546.6h0M295.3 547.9h0M344.2 548.6h0M195.8 552.6h0M203.3 555.5h0M227.6 555.7h0M248.2 552.1h0M260.7 554.7h0M271.5 554.2h0M305.7 550.4h0M328.0 555.4h0M335.3 551.8h0M358.7 550.9h0M201.3 559.4h0M208.7 559.6h0M227.0 558.8h0M232.4 556.3h0M240.6 560.4h0M242.7 559.7h0M265.6 556.2h0M274.3 559.1h0M278.4 559.6h0M322.2 560.7h0M346.9 560.0h0M363.0 561.2h0M198.8 567.9h0M205.1 562.1h0M217.0 564.4h0M242.9 563.8h0M260.9 563.5h0M292.5 563.1h0M338.4 564.4h0M346.9 565.4h0M352.7 565.6h0M366.1 566.4h0M205.8 568.6h0M215.5 568.9h0M260.5 573.9h0M268.4 568.0h0M276.1 570.5h0M287.6 572.0h0M291.2 573.4h0M306.7 569.0h0M322.4 573.7h0M358.3 573.9h0M188.8 574.2h0M193.7 578.7h0M209.8 574.2h0M214.3 578.3h0M228.2 578.0h0M241.8 577.6h0M273.4 577.8h0M282.0 579.9h0M292.2 578.3h0M301.5 577.2h0M307.7 580.1h0M327.7 580.0h0M362.5 580.2h0M200.7 585.4h0M231.3 586.2h0M238.4 581.4h0M252.0 581.0h0M275.2 584.7h0M276.6 582.4h0M291.8 585.1h0M324.4 584.5h0M363.2 583.5h0M195.3 591.3h0M205.4 589.3h0M209.7 590.3h0M230.1 590.7h0M251.4 587.0h0M265.8 590.6h0M274.4 589.4h0M282.7 591.8h0M287.6 586.3h0M300.5 586.2h0M342.5 587.2h0M255.5 595.2h0M270.6 594.4h0M273.6 596.9h0M287.3 598.4h0M342.4 597.0h0M345.2 597.0h0M352.7 598.1h0M359.7 598.5h0M201.8 599.6h0M209.0 598.8h0M231.9 600.9h0M237.5 601.5h0M241.6 598.6h0M259.4 601.3h0M292.8 602.6h0M326.9 599.2h0M333.3 602.4h0M363.9 598.6h0M198.1 610.4h0M207.8 608.1h0M319.1 608.1h0M322.1 606.6h0M340.7 604.7h0M362.3 608.4h0M369.9 608.4h0M196.4 612.5h0M208.6 612.5h0M231.2 615.3h0M246.8 612.0h0M306.9 611.3h0M327.5 614.6h0M333.9 615.5h0M342.0 613.5h0M344.5 611.7h0M355.9 614.2h0M210.4 622.2h0M231.0 621.7h0M296.0 622.1h0M312.4 618.0h0M327.5 621.0h0M355.9 622.9h0M188.0 627.5h0M240.2 625.4h0M296.2 627.0h0M300.9 627.5h0M324.6 622.8h0M328.9 627.7h0M347.3 626.7h0M357.4 623.5h0M367.4 624.1h0M198.9 631.6h0M205.2 632.1h0M225.2 629.5h0M231.7 633.9h0M248.1 635.1h0M258.8 631.2h0M263.4 631.5h0M273.9 630.9h0M281.0 629.9h0M291.4 630.3h0M302.8 629.8h0M324.7 632.8h0M342.7 633.3h0M192.9 638.6h0M218.4 635.1h0M237.6 636.0h0M241.7 638.0h0M258.0 640.6h0M269.5 641.0h0M282.4 638.3h0M291.3 641.0h0M312.7 641.1h0M316.9 640.6h0M323.1 638.1h0M338.2 639.5h0M348.1 640.7h0M352.5 639.9h0M217.0 646.2h0M222.8 644.1h0M252.1 642.0h0M268.7 646.0h0M296.0 641.2h0M331.2 645.7h0M344.8 646.0h0M360.7 641.2h0M365.6 645.4h0M194.1 649.8h0M207.6 653.2h0M218.6 652.8h0M224.5 652.8h0M258.7 652.4h0M279.9 648.1h0M301.8 652.5h0M316.8 649.9h0M337.2 651.6h0M367.6 648.4h0M228.8 653.6h0M292.3 653.3h0M314.3 657.3h0M334.1 654.6h0M346.9 654.5h0" stroke="#5e2674" stroke-width="2.42" stroke-linecap="round" opacity="0.7" filter="url(#nb)"/>
<ellipse cx="270.5" cy="545.0" rx="6.5" ry="17.0" fill="#e6b4da" opacity="0.6" filter="url(#soft)"/>
<ellipse cx="285.0" cy="583.0" rx="7.0" ry="11.0" fill="#e8bcdc" opacity="0.6" filter="url(#soft)"/>
<ellipse cx="358.5" cy="568.5" rx="8.5" ry="6.5" fill="#ecc4e0" opacity="0.7" filter="url(#soft)"/>
<ellipse cx="279.0" cy="614.0" rx="11.0" ry="11.0" fill="#8a3a86" opacity="0.3" filter="url(#soft)"/>
<ellipse cx="279.0" cy="614.0" rx="12.0" ry="11.5" fill="none" stroke="#e6b4da" stroke-width="1.4" opacity="0.6" filter="url(#soft)"/>
<ellipse cx="313.5" cy="635.0" rx="16.5" ry="18.0" fill="#8a3a86" opacity="0.3" filter="url(#soft)"/>
<ellipse cx="313.0" cy="635.0" rx="17.0" ry="18.0" fill="none" stroke="#e6b4da" stroke-width="1.4" opacity="0.6" filter="url(#soft)"/>
</g>
<g clip-path="url(#cpK)">
<g transform="rotate(27 453.5 593.2)"><rect x="344.5" y="484.2" width="218" height="218" filter="url(#rK)"/></g>
<rect x="368.5" y="528" width="170" height="130.5" filter="url(#fK0)"/>
<path d="M368.5,570 C372,571 375,571.5 377,571.8 C380,573 383,574.5 385.3,574.5 C388,574.5 390,573.5 391.6,572.7 C394,571.5 396,570 398,569 C401,567.5 403,566.5 404.4,565.5 C406,564 407,563 408,561.8 C409,560.5 410,559.8 410.7,559.5 C410,562 409,565 408.9,567.3 C408.5,570 408,572.5 408,574.5 C408.5,577 409.5,579 409.8,581 C408.5,582 407.5,582.5 406.2,582.7 C402,583.5 398,584 395.3,584.5 C392,585 390,585.3 388,585.5 C386,586 385,586.8 383.5,587.3 C381,588 379,588.8 377,589 C375,588.5 374,588 372.5,587.3 C371,586.8 370,586.3 368.5,586 Z" fill="#faeee6" opacity="0.97" filter="url(#soft)"/>
<ellipse cx="463.0" cy="540.0" rx="8.0" ry="8.5" fill="none" stroke="#f4d0d4" stroke-width="1.3" opacity="0.75" filter="url(#soft)"/>
<ellipse cx="488.0" cy="548.0" rx="9.0" ry="9.0" fill="none" stroke="#f4d0d4" stroke-width="1.3" opacity="0.75" filter="url(#soft)"/>
<ellipse cx="471.0" cy="611.0" rx="9.0" ry="9.0" fill="none" stroke="#f4d0d4" stroke-width="1.3" opacity="0.75" filter="url(#soft)"/>
<ellipse cx="529.0" cy="611.0" rx="9.0" ry="10.0" fill="none" stroke="#f4d0d4" stroke-width="1.3" opacity="0.75" filter="url(#soft)"/>
<ellipse cx="530.0" cy="582.0" rx="8.0" ry="9.0" fill="none" stroke="#f4d0d4" stroke-width="1.2" opacity="0.6" filter="url(#soft)"/>
<ellipse cx="467.0" cy="648.0" rx="10.0" ry="8.0" fill="none" stroke="#f4d0d4" stroke-width="1.2" opacity="0.6" filter="url(#soft)"/>
<ellipse cx="413.0" cy="622.5" rx="3.0" ry="10.5" fill="#f6e0e0" opacity="0.8" filter="url(#soft)"/>
</g>
<g clip-path="url(#cpL)">
<g transform="rotate(27 623.2 593.2)"><rect x="514.8" y="484.8" width="217" height="217" filter="url(#rL)"/></g>
<path d="M539.7 529.4h0M561.5 531.4h0M568.5 533.6h0M577.2 533.7h0M589.2 529.8h0M628.7 532.4h0M633.7 528.7h0M643.1 534.0h0M647.2 528.6h0M665.0 528.7h0M671.2 529.9h0M678.5 532.3h0M682.7 531.0h0M690.3 530.2h0M702.2 529.2h0M543.1 535.5h0M554.9 539.3h0M566.6 538.6h0M572.1 537.7h0M595.3 535.4h0M601.8 536.5h0M610.5 535.1h0M642.5 536.6h0M655.6 537.9h0M662.5 535.4h0M670.6 539.6h0M685.6 536.8h0M691.8 538.4h0M703.1 539.5h0M706.8 534.8h0M541.9 541.6h0M555.1 540.1h0M571.2 542.0h0M682.8 544.7h0M687.2 544.9h0M693.4 541.1h0M701.1 539.5h0M703.6 540.4h0M564.3 550.3h0M584.0 547.7h0M620.0 545.1h0M637.1 548.4h0M642.1 549.4h0M695.3 546.0h0M565.0 552.1h0M568.1 553.3h0M592.8 554.7h0M601.9 553.5h0M650.4 551.5h0M666.9 553.8h0M682.2 551.3h0M696.5 552.5h0M701.5 553.5h0M707.4 555.4h0M543.3 557.1h0M546.5 561.2h0M561.2 556.9h0M576.6 560.4h0M595.0 557.4h0M617.4 561.5h0M626.8 557.9h0M644.8 558.5h0M652.3 560.5h0M654.1 558.0h0M696.1 560.3h0M701.7 558.9h0M705.6 557.3h0M541.1 567.0h0M551.0 563.5h0M554.4 566.7h0M558.5 563.8h0M568.0 564.1h0M577.5 565.9h0M592.1 565.6h0M605.2 566.3h0M612.2 566.0h0M626.1 566.4h0M628.7 562.9h0M651.6 564.3h0M659.2 564.1h0M669.4 566.0h0M703.6 563.9h0M565.9 571.6h0M589.8 571.3h0M601.1 572.3h0M611.7 568.3h0M614.4 571.9h0M629.2 570.2h0M636.3 568.1h0M638.8 567.6h0M658.2 567.7h0M677.1 569.7h0M693.4 569.8h0M706.8 569.8h0M549.1 576.2h0M553.4 577.3h0M561.2 576.1h0M568.6 572.3h0M571.2 572.9h0M577.7 578.0h0M585.0 574.4h0M604.6 574.2h0M613.0 578.0h0M647.9 575.6h0M660.2 576.2h0M676.3 572.5h0M701.8 576.2h0M707.4 575.8h0M546.3 580.8h0M553.2 578.1h0M561.3 582.3h0M572.2 583.3h0M574.6 583.1h0M580.5 582.9h0M589.8 580.5h0M625.0 580.0h0M647.9 580.7h0M666.3 579.5h0M691.3 580.7h0M701.7 583.3h0M707.6 581.2h0M551.4 584.5h0M555.9 587.8h0M574.3 584.4h0M580.9 586.9h0M585.1 585.9h0M592.8 584.6h0M610.5 588.4h0M624.4 587.4h0M633.2 587.5h0M654.2 588.1h0M669.1 586.8h0M681.6 584.4h0M685.2 587.3h0M700.4 586.7h0M543.5 594.0h0M559.3 589.3h0M581.2 593.1h0M587.4 591.1h0M595.3 590.8h0M617.5 593.0h0M625.7 590.0h0M630.9 590.3h0M633.8 589.4h0M668.4 591.1h0M684.7 589.3h0M704.8 594.4h0M548.9 594.9h0M558.9 599.4h0M568.5 598.5h0M572.3 598.8h0M577.9 595.3h0M582.3 594.4h0M620.2 596.8h0M634.8 598.1h0M641.7 595.5h0M646.3 599.3h0M659.6 597.7h0M673.5 597.6h0M699.0 594.6h0M557.1 601.9h0M562.3 600.0h0M573.5 605.1h0M574.4 601.2h0M589.9 601.6h0M619.6 602.1h0M632.5 605.1h0M640.2 602.3h0M645.9 599.8h0M673.7 603.6h0M698.7 605.1h0M701.5 604.9h0M590.2 605.8h0M612.6 609.7h0M650.8 607.1h0M675.3 608.8h0M691.6 610.5h0M546.1 612.3h0M557.0 613.1h0M565.9 613.4h0M571.5 611.4h0M585.1 613.9h0M626.0 614.9h0M637.7 612.7h0M645.2 613.7h0M658.0 613.7h0M690.9 611.5h0M554.5 620.6h0M561.2 618.7h0M564.5 621.4h0M570.6 618.2h0M593.7 616.4h0M597.4 619.5h0M622.4 618.5h0M640.6 620.5h0M648.8 617.5h0M657.0 616.7h0M662.0 619.2h0M672.6 620.2h0M694.8 621.1h0M697.5 618.7h0M704.2 618.9h0M549.1 621.7h0M557.4 627.3h0M565.7 622.0h0M569.5 626.7h0M583.5 626.2h0M601.2 626.5h0M621.5 627.2h0M628.8 622.6h0M639.1 626.3h0M647.2 624.2h0M652.8 626.3h0M659.9 625.9h0M661.8 624.5h0M667.8 625.0h0M676.3 624.5h0M549.6 632.6h0M574.1 627.3h0M578.3 629.2h0M586.9 628.3h0M596.1 629.0h0M605.9 632.2h0M637.6 627.7h0M641.9 630.5h0M646.1 632.2h0M667.1 632.1h0M671.3 628.4h0M677.7 632.5h0M697.7 632.8h0M549.4 634.4h0M569.6 632.8h0M573.2 638.0h0M596.1 636.3h0M608.4 632.8h0M616.0 633.4h0M622.1 634.1h0M627.0 634.6h0M632.0 637.3h0M641.3 632.8h0M653.1 636.1h0M660.5 638.1h0M685.6 634.8h0M697.5 638.2h0M706.0 636.4h0M543.3 641.2h0M550.3 643.0h0M556.7 642.0h0M563.0 643.2h0M578.2 640.9h0M601.5 643.0h0M611.6 641.2h0M619.7 638.3h0M631.5 638.5h0M637.3 640.4h0M657.9 639.3h0M672.8 640.0h0M688.7 639.8h0M691.2 638.9h0M700.0 639.6h0M537.3 648.8h0M552.5 646.5h0M575.6 647.6h0M587.8 647.1h0M606.8 647.5h0M613.1 645.1h0M619.6 648.0h0M648.5 646.1h0M664.4 644.1h0M670.0 644.9h0M689.6 645.2h0M579.5 651.5h0M601.0 650.2h0M610.8 650.6h0M621.2 652.4h0M647.1 650.2h0M655.7 652.9h0M549.0 659.2h0M552.7 657.0h0M561.1 656.0h0M566.2 658.2h0M572.4 656.9h0M580.4 655.9h0M586.2 655.4h0M590.1 656.5h0M599.2 656.4h0M601.8 659.2h0M609.9 656.6h0M622.9 656.1h0M638.2 659.3h0M640.2 658.1h0M666.1 659.9h0M675.7 659.4h0M683.5 659.7h0" stroke="#6a2a72" stroke-width="2.12" stroke-linecap="round" opacity="0.9" filter="url(#nb)"/>
<path d="M545.3 528.5h0M550.9 533.4h0M569.6 530.0h0M585.4 530.5h0M596.7 532.7h0M609.0 531.8h0M616.4 532.8h0M654.0 532.0h0M662.9 532.4h0M695.7 532.2h0M551.6 537.1h0M565.1 539.3h0M607.3 537.5h0M619.4 534.0h0M630.6 539.0h0M637.2 536.9h0M652.9 535.2h0M675.2 537.0h0M681.7 534.6h0M550.8 544.1h0M561.7 539.8h0M567.4 542.3h0M579.2 540.0h0M584.2 542.6h0M589.5 543.1h0M600.7 544.2h0M603.3 540.7h0M613.3 540.2h0M619.0 541.4h0M622.2 543.1h0M631.8 539.9h0M636.9 542.1h0M644.0 544.8h0M648.4 541.2h0M656.7 545.0h0M663.9 543.3h0M672.4 541.0h0M544.0 546.0h0M551.3 547.9h0M555.3 546.6h0M566.3 545.1h0M585.1 548.6h0M594.6 546.5h0M598.7 547.7h0M613.6 549.9h0M623.9 546.4h0M653.0 549.8h0M665.7 548.6h0M667.6 549.7h0M673.3 547.2h0M680.8 550.6h0M689.2 549.5h0M703.2 545.5h0M707.8 548.1h0M543.8 551.4h0M552.9 551.7h0M575.8 553.2h0M590.7 553.6h0M608.3 555.1h0M616.9 551.9h0M630.8 551.9h0M640.5 554.2h0M643.3 553.2h0M657.6 554.9h0M668.9 552.8h0M679.3 553.9h0M690.5 556.0h0M554.1 559.1h0M566.9 561.1h0M578.0 561.4h0M597.6 557.3h0M608.3 560.0h0M637.5 560.5h0M661.8 558.4h0M669.1 560.7h0M672.9 559.0h0M689.7 558.0h0M573.9 563.5h0M588.1 564.7h0M601.9 562.4h0M617.6 566.4h0M636.1 562.2h0M641.1 566.6h0M653.0 563.3h0M675.1 565.6h0M681.4 565.7h0M687.1 565.6h0M692.2 563.2h0M701.5 564.3h0M539.5 566.9h0M549.2 571.9h0M554.7 568.4h0M562.1 569.8h0M580.2 569.5h0M586.0 571.3h0M595.1 568.7h0M620.6 572.2h0M650.2 569.8h0M654.4 568.1h0M667.4 570.6h0M672.1 572.4h0M700.9 569.4h0M543.7 574.0h0M590.8 575.5h0M598.9 576.5h0M617.7 575.0h0M625.4 573.5h0M629.8 574.8h0M634.4 574.1h0M641.5 573.4h0M666.9 575.7h0M682.6 572.4h0M687.3 572.5h0M690.8 576.5h0M597.9 582.6h0M604.4 582.0h0M606.6 581.0h0M613.0 580.9h0M621.0 578.9h0M630.7 578.8h0M640.1 582.7h0M650.2 578.9h0M658.4 579.3h0M671.7 578.6h0M681.8 582.1h0M693.7 582.3h0M544.8 588.4h0M561.9 588.1h0M597.9 586.5h0M603.5 586.3h0M616.7 583.7h0M636.4 585.4h0M641.6 583.6h0M664.5 588.8h0M672.7 585.3h0M693.5 585.4h0M706.9 584.8h0M547.5 594.1h0M566.4 590.8h0M589.6 591.8h0M603.7 589.6h0M613.1 589.3h0M644.6 592.3h0M647.6 590.6h0M653.1 590.7h0M661.1 591.8h0M672.1 594.3h0M677.7 590.9h0M700.9 592.0h0M553.4 597.0h0M604.7 594.3h0M607.6 596.3h0M616.7 594.9h0M628.4 598.6h0M656.8 599.0h0M663.8 596.8h0M680.8 598.2h0M683.5 595.8h0M691.0 595.5h0M706.0 597.7h0M544.1 600.3h0M552.7 605.0h0M581.2 600.3h0M597.0 601.4h0M605.0 600.6h0M610.7 602.7h0M627.3 600.6h0M655.4 600.3h0M658.2 604.8h0M668.0 601.2h0M680.0 601.8h0M686.9 603.7h0M691.2 605.0h0M709.1 601.4h0M547.0 605.4h0M551.8 610.2h0M558.1 607.1h0M561.7 609.5h0M583.0 609.7h0M598.6 609.4h0M600.5 609.3h0M610.3 609.8h0M618.5 609.3h0M626.6 608.4h0M637.9 607.3h0M656.9 610.8h0M664.3 605.5h0M672.5 608.4h0M685.9 609.4h0M698.5 606.8h0M701.4 606.6h0M539.0 612.3h0M551.1 612.0h0M576.6 613.2h0M588.6 610.7h0M593.7 613.7h0M605.1 611.0h0M611.3 612.2h0M615.7 614.2h0M620.9 612.5h0M636.0 612.4h0M655.6 615.6h0M663.0 615.0h0M673.7 611.7h0M678.5 614.5h0M682.3 613.9h0M698.0 611.7h0M701.5 616.1h0M541.5 617.8h0M549.8 618.5h0M577.9 617.6h0M603.1 619.2h0M616.8 617.7h0M630.2 619.1h0M667.3 618.2h0M680.5 619.3h0M688.9 620.6h0M546.6 626.6h0M573.4 625.3h0M592.1 622.0h0M607.5 622.1h0M614.9 623.3h0M633.3 627.2h0M683.9 625.2h0M689.8 626.0h0M695.1 622.7h0M710.7 626.0h0M543.8 630.7h0M551.9 629.0h0M569.3 628.9h0M591.7 631.0h0M608.7 627.3h0M621.1 632.5h0M655.2 627.7h0M662.2 631.7h0M684.7 631.9h0M693.2 628.8h0M703.1 632.0h0M543.0 637.1h0M554.4 637.2h0M564.4 638.2h0M581.4 634.3h0M587.0 636.4h0M601.9 637.4h0M644.6 635.5h0M670.2 636.0h0M677.2 636.9h0M689.1 633.9h0M701.8 633.3h0M567.3 643.6h0M574.4 641.2h0M584.2 641.5h0M605.7 640.7h0M622.0 643.3h0M647.6 641.9h0M659.3 643.6h0M665.6 639.9h0M681.9 641.5h0M707.2 643.4h0M547.8 644.1h0M557.0 647.7h0M564.9 648.4h0M570.4 648.5h0M597.5 646.3h0M601.6 643.9h0M634.9 649.2h0M639.9 648.3h0M651.5 646.4h0M677.2 648.0h0M684.6 646.7h0M699.3 644.2h0M545.9 649.9h0M551.9 650.0h0M559.0 652.3h0M565.1 650.5h0M570.7 653.3h0M582.6 649.2h0M598.7 653.7h0M615.9 653.8h0M626.0 654.7h0M636.3 649.9h0M639.1 652.2h0M668.8 654.6h0M673.1 654.1h0M680.1 654.2h0M686.8 650.3h0M693.1 650.2h0M700.3 649.8h0M703.8 650.4h0M543.0 654.6h0M613.8 659.2h0M630.5 656.1h0M649.2 659.3h0M652.2 657.2h0M658.6 660.2h0M679.7 656.4h0M693.7 657.4h0M699.6 657.1h0M707.3 659.6h0" stroke="#6a2a72" stroke-width="2.88" stroke-linecap="round" opacity="0.9" filter="url(#nb)"/>
<ellipse cx="611.2" cy="593.4" rx="14.2" ry="13.8" fill="none" stroke="#f2cc78" stroke-width="1.5" opacity="0.9" filter="url(#soft)"/>
<ellipse cx="654.5" cy="617.1" rx="17.2" ry="15.5" fill="none" stroke="#f2cc78" stroke-width="1.5" opacity="0.9" filter="url(#soft)"/>
<path d="M621,538 C627,540 632,543 637,545 C638,546.5 636,547.5 634,547 C629,546 625,543 621,540 Z" fill="#f4cc70" opacity="0.9" filter="url(#soft)"/>
<path d="M619,551 C622,553 624,556 626,556.5 C628,555 630,553 633,552.5 C636,552 639,552 640,553 C637,554.5 632,555 629,557 C626,559 623,558 619,554 Z" fill="#f4cc70" opacity="0.9" filter="url(#soft)"/>
<path d="M654,531 C656,535 658,540 657,545 C656,546 655,544 655,541 C654,537 653,534 654,531 Z" fill="#f4cc70" opacity="0.9" filter="url(#soft)"/>
<ellipse cx="669.0" cy="546.5" rx="3.0" ry="1.5" fill="#f4cc70" opacity="0.6" filter="url(#soft)"/>
<ellipse cx="691.0" cy="555.0" rx="3.0" ry="3.0" fill="#f4cc70" opacity="0.6" filter="url(#soft)"/>
<ellipse cx="704.5" cy="562.5" rx="2.5" ry="4.5" fill="#f4cc70" opacity="0.6" filter="url(#soft)"/>
<path d="M694,576 C697,581 698,587 698,592 C697,594 696,592 695.5,588 C695,583 694,579 694,576 Z" fill="#f4cc70" opacity="0.85" filter="url(#soft)"/>
<ellipse cx="649.0" cy="582.5" rx="4.0" ry="3.5" fill="#f4cc70" opacity="0.55" filter="url(#soft)"/>
<ellipse cx="696.0" cy="596.0" rx="16.0" ry="18.0" fill="#8a3a78" opacity="0.3" filter="url(#soft)"/>
</g>
<rect x="708" y="398" width="1" height="261" fill="#8c8c8c"/>
<g stroke="#222" stroke-width="1" fill="none">
<rect x="14.5" y="398.5" width="693" height="260"/>
<line x1="187.5" y1="398.5" x2="187.5" y2="658.5"/>
<line x1="368" y1="398.5" x2="368" y2="658.5"/>
<line x1="538.5" y1="398.5" x2="538.5" y2="658.5"/>
<line x1="14.5" y1="529.5" x2="187.5" y2="529.5"/>
<line x1="187.5" y1="527.5" x2="707.5" y2="527.5"/>
</g>
<rect x="15" y="399" width="30.5" height="31" fill="#fff"/>
<rect x="188" y="399" width="30.5" height="31" fill="#fff"/>
<rect x="368.5" y="400" width="30.5" height="31" fill="#fff"/>
<rect x="539" y="399" width="30.5" height="31" fill="#fff"/>
<rect x="15" y="530" width="30.5" height="31" fill="#fff"/>
<rect x="188" y="528" width="30.5" height="31" fill="#fff"/>
<rect x="368.5" y="528" width="30.5" height="31" fill="#fff"/>
<rect x="539" y="528" width="30.5" height="31" fill="#fff"/>
<text transform="translate(24.8,419.8) scale(0.86,1)" font-size="16" fill="#000">E</text>
<text transform="translate(197.3,419.9) scale(0.86,1)" font-size="16" fill="#000">F</text>
<text transform="translate(377.9,421.2) scale(0.86,1)" font-size="16" fill="#000">G</text>
<text transform="translate(547.6,419.7) scale(0.86,1)" font-size="16" fill="#000">H</text>
<text transform="translate(25.9,549.8) scale(0.86,1)" font-size="16" fill="#000">I</text>
<text transform="translate(196.8,549.2) scale(0.86,1)" font-size="16" fill="#000">J</text>
<text transform="translate(378.3,549.2) scale(0.86,1)" font-size="16" fill="#000">K</text>
<text transform="translate(547.8,549.6) scale(0.86,1)" font-size="16" fill="#000">L</text>
<text x="44.80" y="13.60" font-size="17.8" font-weight="bold" text-anchor="middle" fill="#000" stroke="#000" stroke-width="0.35">A</text>
<text x="473.10" y="13.70" font-size="17.5" font-weight="bold" text-anchor="middle" fill="#000" stroke="#000" stroke-width="0.35">B</text>
<text x="44.20" y="228.30" font-size="17.5" font-weight="bold" text-anchor="middle" fill="#000" stroke="#000" stroke-width="0.35">C</text>
<text x="473.20" y="228.60" font-size="17.5" font-weight="bold" text-anchor="middle" fill="#000" stroke="#000" stroke-width="0.35">D</text>
<line x1="35.80" y1="45.30" x2="35.80" y2="154.40" stroke="#000" stroke-width="1.6" stroke-linecap="butt"/>
<line x1="35.00" y1="153.60" x2="385.60" y2="153.60" stroke="#000" stroke-width="1.6" stroke-linecap="butt"/>
<line x1="32.30" y1="153.60" x2="35.80" y2="153.60" stroke="#000" stroke-width="1.3" stroke-linecap="butt"/>
<text x="31.80" y="156.90" font-size="8" font-weight="bold" text-anchor="end" fill="#000" >0</text>
<line x1="32.30" y1="132.10" x2="35.80" y2="132.10" stroke="#000" stroke-width="1.3" stroke-linecap="butt"/>
<text x="31.80" y="135.40" font-size="8" font-weight="bold" text-anchor="end" fill="#000" >2</text>
<line x1="32.30" y1="110.60" x2="35.80" y2="110.60" stroke="#000" stroke-width="1.3" stroke-linecap="butt"/>
<text x="31.80" y="113.90" font-size="8" font-weight="bold" text-anchor="end" fill="#000" >4</text>
<line x1="32.30" y1="89.10" x2="35.80" y2="89.10" stroke="#000" stroke-width="1.3" stroke-linecap="butt"/>
<text x="31.80" y="92.40" font-size="8" font-weight="bold" text-anchor="end" fill="#000" >6</text>
<line x1="32.30" y1="67.60" x2="35.80" y2="67.60" stroke="#000" stroke-width="1.3" stroke-linecap="butt"/>
<text x="31.80" y="70.90" font-size="8" font-weight="bold" text-anchor="end" fill="#000" >8</text>
<line x1="32.30" y1="46.10" x2="35.80" y2="46.10" stroke="#000" stroke-width="1.3" stroke-linecap="butt"/>
<text x="31.80" y="49.40" font-size="8" font-weight="bold" text-anchor="end" fill="#000" >10</text>
<text x="0.00" y="0.00" font-size="8" font-weight="bold" text-anchor="middle" fill="#000" transform="translate(7.2,101.0) rotate(-90)">EGTI Histology score</text>
<line x1="53.00" y1="153.60" x2="53.00" y2="157.60" stroke="#000" stroke-width="1.3" stroke-linecap="butt"/>
<text x="53.00" y="164.90" font-size="6.75" font-weight="bold" text-anchor="middle" fill="#000" >D/Kill</text>
<text x="53.00" y="172.10" font-size="6.75" font-weight="bold" text-anchor="middle" fill="#000" >(L)</text>
<line x1="88.00" y1="153.60" x2="88.00" y2="157.60" stroke="#000" stroke-width="1.3" stroke-linecap="butt"/>
<text x="88.00" y="164.90" font-size="6.75" font-weight="bold" text-anchor="middle" fill="#000" >D/Kill</text>
<text x="88.00" y="172.10" font-size="6.75" font-weight="bold" text-anchor="middle" fill="#000" >(R)</text>
<line x1="123.00" y1="153.60" x2="123.00" y2="157.60" stroke="#000" stroke-width="1.3" stroke-linecap="butt"/>
<text x="123.00" y="164.90" font-size="6.75" font-weight="bold" text-anchor="middle" fill="#000" >Sham</text>
<text x="123.00" y="172.10" font-size="6.75" font-weight="bold" text-anchor="middle" fill="#000" >(L)</text>
<line x1="158.00" y1="153.60" x2="158.00" y2="157.60" stroke="#000" stroke-width="1.3" stroke-linecap="butt"/>
<text x="158.00" y="164.90" font-size="6.75" font-weight="bold" text-anchor="middle" fill="#000" >Sham</text>
<text x="158.00" y="172.10" font-size="6.75" font-weight="bold" text-anchor="middle" fill="#000" >(R)</text>
<line x1="193.00" y1="153.60" x2="193.00" y2="157.60" stroke="#000" stroke-width="1.3" stroke-linecap="butt"/>
<text x="193.00" y="164.90" font-size="6.75" font-weight="bold" text-anchor="middle" fill="#000" >IPC alone</text>
<text x="193.00" y="172.10" font-size="6.75" font-weight="bold" text-anchor="middle" fill="#000" >(L)</text>
<line x1="228.00" y1="153.60" x2="228.00" y2="157.60" stroke="#000" stroke-width="1.3" stroke-linecap="butt"/>
<text x="228.00" y="164.90" font-size="6.75" font-weight="bold" text-anchor="middle" fill="#000" >IPC alone</text>
<text x="228.00" y="172.10" font-size="6.75" font-weight="bold" text-anchor="middle" fill="#000" >(R)</text>
<line x1="263.00" y1="153.60" x2="263.00" y2="157.60" stroke="#000" stroke-width="1.3" stroke-linecap="butt"/>
<text x="263.00" y="164.90" font-size="6.75" font-weight="bold" text-anchor="middle" fill="#000" >IRI</text>
<text x="263.00" y="172.10" font-size="6.75" font-weight="bold" text-anchor="middle" fill="#000" >(L)</text>
<line x1="298.00" y1="153.60" x2="298.00" y2="157.60" stroke="#000" stroke-width="1.3" stroke-linecap="butt"/>
<text x="298.00" y="164.90" font-size="6.75" font-weight="bold" text-anchor="middle" fill="#000" >IRI</text>
<text x="298.00" y="172.10" font-size="6.75" font-weight="bold" text-anchor="middle" fill="#000" >(R)</text>
<line x1="333.00" y1="153.60" x2="333.00" y2="157.60" stroke="#000" stroke-width="1.3" stroke-linecap="butt"/>
<text x="333.00" y="164.90" font-size="6.75" font-weight="bold" text-anchor="middle" fill="#000" >IPC/IRI</text>
<text x="333.00" y="172.10" font-size="6.75" font-weight="bold" text-anchor="middle" fill="#000" >(L)</text>
<line x1="368.00" y1="153.60" x2="368.00" y2="157.60" stroke="#000" stroke-width="1.3" stroke-linecap="butt"/>
<text x="368.00" y="164.90" font-size="6.75" font-weight="bold" text-anchor="middle" fill="#000" >IPC/IRI</text>
<text x="368.00" y="172.10" font-size="6.75" font-weight="bold" text-anchor="middle" fill="#000" >(R)</text>
<circle cx="45.20" cy="153.60" r="2.1" fill="#000"/>
<circle cx="49.10" cy="153.60" r="2.1" fill="#000"/>
<circle cx="53.00" cy="153.60" r="2.1" fill="#000"/>
<circle cx="56.90" cy="153.60" r="2.1" fill="#000"/>
<circle cx="60.80" cy="153.60" r="2.1" fill="#000"/>
<circle cx="80.20" cy="153.60" r="2.1" fill="#000"/>
<circle cx="84.10" cy="153.60" r="2.1" fill="#000"/>
<circle cx="88.00" cy="153.60" r="2.1" fill="#000"/>
<circle cx="91.90" cy="153.60" r="2.1" fill="#000"/>
<circle cx="95.80" cy="153.60" r="2.1" fill="#000"/>
<line x1="123.00" y1="142.85" x2="123.00" y2="153.60" stroke="#555" stroke-width="1.4" stroke-linecap="butt"/>
<line x1="117.00" y1="142.85" x2="129.00" y2="142.85" stroke="#555" stroke-width="1.4" stroke-linecap="butt"/>
<circle cx="114.75" cy="153.60" r="2.1" fill="#000"/>
<circle cx="117.50" cy="153.60" r="2.1" fill="#000"/>
<circle cx="120.25" cy="153.60" r="2.1" fill="#000"/>
<circle cx="123.00" cy="153.60" r="2.1" fill="#000"/>
<circle cx="125.75" cy="153.60" r="2.1" fill="#000"/>
<circle cx="128.50" cy="153.60" r="2.1" fill="#000"/>
<circle cx="131.25" cy="153.60" r="2.1" fill="#000"/>
<circle cx="123.00" cy="142.85" r="2.1" fill="#000"/>
<line x1="158.00" y1="132.10" x2="158.00" y2="153.60" stroke="#555" stroke-width="1.4" stroke-linecap="butt"/>
<line x1="152.00" y1="132.10" x2="164.00" y2="132.10" stroke="#555" stroke-width="1.4" stroke-linecap="butt"/>
<circle cx="149.75" cy="153.60" r="2.1" fill="#000"/>
<circle cx="152.50" cy="153.60" r="2.1" fill="#000"/>
<circle cx="155.25" cy="153.60" r="2.1" fill="#000"/>
<circle cx="158.00" cy="153.60" r="2.1" fill="#000"/>
<circle cx="160.75" cy="153.60" r="2.1" fill="#000"/>
<circle cx="163.50" cy="153.60" r="2.1" fill="#000"/>
<circle cx="166.25" cy="153.60" r="2.1" fill="#000"/>
<circle cx="158.00" cy="132.10" r="2.1" fill="#000"/>
<circle cx="186.25" cy="153.60" r="2.1" fill="#000"/>
<circle cx="188.50" cy="153.60" r="2.1" fill="#000"/>
<circle cx="190.75" cy="153.60" r="2.1" fill="#000"/>
<circle cx="193.00" cy="153.60" r="2.1" fill="#000"/>
<circle cx="195.25" cy="153.60" r="2.1" fill="#000"/>
<circle cx="197.50" cy="153.60" r="2.1" fill="#000"/>
<circle cx="199.75" cy="153.60" r="2.1" fill="#000"/>
<circle cx="221.25" cy="153.60" r="2.1" fill="#000"/>
<circle cx="223.50" cy="153.60" r="2.1" fill="#000"/>
<circle cx="225.75" cy="153.60" r="2.1" fill="#000"/>
<circle cx="228.00" cy="153.60" r="2.1" fill="#000"/>
<circle cx="230.25" cy="153.60" r="2.1" fill="#000"/>
<circle cx="232.50" cy="153.60" r="2.1" fill="#000"/>
<circle cx="234.75" cy="153.60" r="2.1" fill="#000"/>
<line x1="263.00" y1="56.85" x2="263.00" y2="89.10" stroke="#555" stroke-width="1.4" stroke-linecap="butt"/>
<line x1="257.00" y1="56.85" x2="269.00" y2="56.85" stroke="#555" stroke-width="1.4" stroke-linecap="butt"/>
<line x1="257.00" y1="89.10" x2="269.00" y2="89.10" stroke="#555" stroke-width="1.4" stroke-linecap="butt"/>
<line x1="251.50" y1="67.60" x2="274.50" y2="67.60" stroke="#555" stroke-width="1.4" stroke-linecap="butt"/>
<circle cx="263.00" cy="56.85" r="2.1" fill="#000"/>
<circle cx="254.20" cy="67.60" r="2.1" fill="#000"/>
<circle cx="258.60" cy="67.60" r="2.1" fill="#000"/>
<circle cx="263.00" cy="67.60" r="2.1" fill="#000"/>
<circle cx="267.40" cy="67.60" r="2.1" fill="#000"/>
<circle cx="271.80" cy="67.60" r="2.1" fill="#000"/>
<circle cx="259.70" cy="78.35" r="2.1" fill="#000"/>
<circle cx="266.30" cy="78.35" r="2.1" fill="#000"/>
<circle cx="263.00" cy="89.10" r="2.1" fill="#000"/>
<line x1="298.00" y1="67.60" x2="298.00" y2="99.85" stroke="#555" stroke-width="1.4" stroke-linecap="butt"/>
<line x1="292.00" y1="99.85" x2="304.00" y2="99.85" stroke="#555" stroke-width="1.4" stroke-linecap="butt"/>
<line x1="288.00" y1="67.60" x2="308.00" y2="67.60" stroke="#555" stroke-width="1.4" stroke-linecap="butt"/>
<circle cx="289.20" cy="67.60" r="2.1" fill="#000"/>
<circle cx="293.60" cy="67.60" r="2.1" fill="#000"/>
<circle cx="298.00" cy="67.60" r="2.1" fill="#000"/>
<circle cx="302.40" cy="67.60" r="2.1" fill="#000"/>
<circle cx="306.80" cy="67.60" r="2.1" fill="#000"/>
<circle cx="291.60" cy="78.35" r="2.1" fill="#000"/>
<circle cx="298.00" cy="78.35" r="2.1" fill="#000"/>
<circle cx="304.40" cy="78.35" r="2.1" fill="#000"/>
<circle cx="298.00" cy="99.85" r="2.1" fill="#000"/>
<line x1="333.00" y1="78.35" x2="333.00" y2="132.10" stroke="#555" stroke-width="1.4" stroke-linecap="butt"/>
<line x1="326.75" y1="78.35" x2="339.25" y2="78.35" stroke="#555" stroke-width="1.4" stroke-linecap="butt"/>
<line x1="326.75" y1="132.10" x2="339.25" y2="132.10" stroke="#555" stroke-width="1.4" stroke-linecap="butt"/>
<line x1="321.50" y1="110.60" x2="344.50" y2="110.60" stroke="#555" stroke-width="1.4" stroke-linecap="butt"/>
<circle cx="326.20" cy="78.35" r="2.1" fill="#000"/>
<circle cx="333.00" cy="78.35" r="2.1" fill="#000"/>
<circle cx="339.80" cy="78.35" r="2.1" fill="#000"/>
<circle cx="333.00" cy="89.10" r="2.1" fill="#000"/>
<circle cx="324.15" cy="132.10" r="2.1" fill="#000"/>
<circle cx="330.05" cy="132.10" r="2.1" fill="#000"/>
<circle cx="335.95" cy="132.10" r="2.1" fill="#000"/>
<circle cx="341.85" cy="132.10" r="2.1" fill="#000"/>
<line x1="368.00" y1="78.35" x2="368.00" y2="153.60" stroke="#555" stroke-width="1.4" stroke-linecap="butt"/>
<line x1="364.00" y1="78.35" x2="372.00" y2="78.35" stroke="#555" stroke-width="1.4" stroke-linecap="butt"/>
<line x1="356.50" y1="126.72" x2="379.50" y2="126.72" stroke="#555" stroke-width="1.4" stroke-linecap="butt"/>
<circle cx="364.25" cy="78.35" r="2.1" fill="#000"/>
<circle cx="371.75" cy="78.35" r="2.1" fill="#000"/>
<circle cx="368.00" cy="99.85" r="2.1" fill="#000"/>
<circle cx="368.00" cy="121.35" r="2.1" fill="#000"/>
<circle cx="361.50" cy="132.10" r="2.1" fill="#000"/>
<circle cx="368.00" cy="132.10" r="2.1" fill="#000"/>
<circle cx="374.50" cy="132.10" r="2.1" fill="#000"/>
<circle cx="368.00" cy="153.60" r="2.1" fill="#000"/>
<polyline points="262.00,46.60 262.00,39.00 332.30,39.00 332.30,67.50" fill="none" stroke="#e8564c" stroke-width="1.5" stroke-linejoin="miter"/>
<polyline points="297.00,55.70 297.00,33.40 367.50,33.40 367.50,68.00" fill="none" stroke="#3355e6" stroke-width="1.5" stroke-linejoin="miter"/>
<text x="296.10" y="23.30" font-size="9.5" font-weight="bold" text-anchor="middle" fill="#e8564c" stroke="#e8564c" stroke-width="0.4">**</text>
<text x="332.00" y="23.30" font-size="9.5" font-weight="bold" text-anchor="middle" fill="#3355e6" stroke="#3355e6" stroke-width="0.4">**</text>
<line x1="466.60" y1="43.00" x2="466.60" y2="154.30" stroke="#000" stroke-width="1.6" stroke-linecap="butt"/>
<line x1="465.80" y1="153.50" x2="626.40" y2="153.50" stroke="#000" stroke-width="1.6" stroke-linecap="butt"/>
<line x1="463.10" y1="153.50" x2="466.60" y2="153.50" stroke="#000" stroke-width="1.3" stroke-linecap="butt"/>
<text x="462.60" y="156.80" font-size="8" font-weight="bold" text-anchor="end" fill="#000" >0</text>
<line x1="463.10" y1="116.93" x2="466.60" y2="116.93" stroke="#000" stroke-width="1.3" stroke-linecap="butt"/>
<text x="462.60" y="120.23" font-size="8" font-weight="bold" text-anchor="end" fill="#000" >50</text>
<line x1="463.10" y1="80.37" x2="466.60" y2="80.37" stroke="#000" stroke-width="1.3" stroke-linecap="butt"/>
<text x="462.60" y="83.67" font-size="8" font-weight="bold" text-anchor="end" fill="#000" >100</text>
<line x1="463.10" y1="43.80" x2="466.60" y2="43.80" stroke="#000" stroke-width="1.3" stroke-linecap="butt"/>
<text x="462.60" y="47.10" font-size="8" font-weight="bold" text-anchor="end" fill="#000" >150</text>
<text x="0.00" y="0.00" font-size="8.7" font-weight="bold" text-anchor="middle" fill="#000" transform="translate(436.2,99.6) rotate(-90)">Serum creatinine (mmol/l)</text>
<line x1="480.80" y1="125.30" x2="480.80" y2="126.10" stroke="#000" stroke-width="1.3" stroke-linecap="butt"/>
<line x1="477.80" y1="125.30" x2="483.80" y2="125.30" stroke="#000" stroke-width="1.3" stroke-linecap="butt"/>
<rect x="475.55" y="126.85" width="10.50" height="26.65" fill="url(#dotpat)" stroke="#000" stroke-width="1.5" />
<line x1="497.95" y1="121.30" x2="497.95" y2="122.90" stroke="#000" stroke-width="1.3" stroke-linecap="butt"/>
<line x1="494.92" y1="121.30" x2="500.98" y2="121.30" stroke="#000" stroke-width="1.3" stroke-linecap="butt"/>
<rect x="492.65" y="123.65" width="10.60" height="29.85" fill="#a8a8a8" stroke="#000" stroke-width="1.5" />
<line x1="515.20" y1="126.00" x2="515.20" y2="126.40" stroke="#000" stroke-width="1.3" stroke-linecap="butt"/>
<line x1="512.10" y1="126.00" x2="518.30" y2="126.00" stroke="#000" stroke-width="1.3" stroke-linecap="butt"/>
<rect x="509.75" y="127.15" width="10.90" height="26.35" fill="#000" stroke="#000" stroke-width="1.5" />
<line x1="532.50" y1="123.50" x2="532.50" y2="124.80" stroke="#000" stroke-width="1.3" stroke-linecap="butt"/>
<line x1="529.40" y1="123.50" x2="535.60" y2="123.50" stroke="#000" stroke-width="1.3" stroke-linecap="butt"/>
<rect x="527.05" y="125.55" width="10.90" height="27.95" fill="#fff" stroke="#000" stroke-width="1.5" />
<rect x="555.95" y="130.75" width="10.30" height="22.75" fill="url(#dotpat)" stroke="#000" stroke-width="1.5" />
<rect x="573.05" y="131.25" width="10.20" height="22.25" fill="#a8a8a8" stroke="#000" stroke-width="1.5" />
<line x1="595.35" y1="84.00" x2="595.35" y2="94.30" stroke="#000" stroke-width="1.3" stroke-linecap="butt"/>
<line x1="592.32" y1="84.00" x2="598.37" y2="84.00" stroke="#000" stroke-width="1.3" stroke-linecap="butt"/>
<rect x="590.05" y="95.05" width="10.60" height="58.45" fill="#000" stroke="#000" stroke-width="1.5" />
<line x1="612.30" y1="122.30" x2="612.30" y2="123.60" stroke="#000" stroke-width="1.3" stroke-linecap="butt"/>
<line x1="609.35" y1="122.30" x2="615.25" y2="122.30" stroke="#000" stroke-width="1.3" stroke-linecap="butt"/>
<rect x="607.15" y="124.35" width="10.30" height="29.15" fill="#fff" stroke="#000" stroke-width="1.5" />
<line x1="506.00" y1="153.50" x2="506.00" y2="157.50" stroke="#000" stroke-width="1.3" stroke-linecap="butt"/>
<line x1="586.30" y1="153.50" x2="586.30" y2="157.50" stroke="#000" stroke-width="1.3" stroke-linecap="butt"/>
<text x="506.30" y="166.30" font-size="8" font-weight="bold" text-anchor="middle" fill="#000" >Pre-op</text>
<text x="586.30" y="166.00" font-size="8" font-weight="bold" text-anchor="middle" fill="#000" >48 hours</text>
<polyline points="593.90,72.00 593.90,56.00 612.50,56.00 612.50,113.60" fill="none" stroke="#3355e6" stroke-width="1.5" stroke-linejoin="miter"/>
<text x="603.00" y="50.30" font-size="9.5" font-weight="bold" text-anchor="middle" fill="#3355e6" stroke="#3355e6" stroke-width="0.4">*</text>
<rect x="650.60" y="48.50" width="12.40" height="6.40" fill="url(#dotpat)" stroke="#000" stroke-width="1.4" />
<text x="669.00" y="54.80" font-size="8.6" font-weight="normal" text-anchor="start" fill="#222" >Sham</text>
<rect x="650.60" y="61.35" width="12.40" height="6.40" fill="#a8a8a8" stroke="#000" stroke-width="1.4" />
<text x="669.00" y="67.65" font-size="8.6" font-weight="normal" text-anchor="start" fill="#222" >IPC alone</text>
<rect x="650.60" y="74.20" width="12.40" height="6.40" fill="#000" stroke="#000" stroke-width="1.4" />
<text x="669.00" y="80.50" font-size="8.6" font-weight="normal" text-anchor="start" fill="#222" >IRI</text>
<rect x="650.60" y="87.05" width="12.40" height="6.40" fill="#fff" stroke="#000" stroke-width="1.4" />
<text x="669.00" y="93.35" font-size="8.6" font-weight="normal" text-anchor="start" fill="#222" >IPC/IRI</text>
<line x1="35.70" y1="254.80" x2="35.70" y2="365.60" stroke="#000" stroke-width="1.6" stroke-linecap="butt"/>
<line x1="34.90" y1="364.80" x2="217.00" y2="364.80" stroke="#000" stroke-width="1.6" stroke-linecap="butt"/>
<line x1="32.20" y1="364.80" x2="35.70" y2="364.80" stroke="#000" stroke-width="1.3" stroke-linecap="butt"/>
<text x="31.70" y="368.10" font-size="8" font-weight="bold" text-anchor="end" fill="#000" >0</text>
<line x1="32.20" y1="337.50" x2="35.70" y2="337.50" stroke="#000" stroke-width="1.3" stroke-linecap="butt"/>
<text x="31.70" y="340.80" font-size="8" font-weight="bold" text-anchor="end" fill="#000" >5</text>
<line x1="32.20" y1="310.20" x2="35.70" y2="310.20" stroke="#000" stroke-width="1.3" stroke-linecap="butt"/>
<text x="31.70" y="313.50" font-size="8" font-weight="bold" text-anchor="end" fill="#000" >10</text>
<line x1="32.20" y1="282.90" x2="35.70" y2="282.90" stroke="#000" stroke-width="1.3" stroke-linecap="butt"/>
<text x="31.70" y="286.20" font-size="8" font-weight="bold" text-anchor="end" fill="#000" >15</text>
<line x1="32.20" y1="255.60" x2="35.70" y2="255.60" stroke="#000" stroke-width="1.3" stroke-linecap="butt"/>
<text x="31.70" y="258.90" font-size="8" font-weight="bold" text-anchor="end" fill="#000" >20</text>
<text transform="translate(10.9,310.4) rotate(-90)" font-size="9.4" font-weight="bold" text-anchor="middle">NGAL RQ (2<tspan font-size="6" dy="-3.4">-DDCt</tspan><tspan dy="3.4">)</tspan></text>
<rect x="42.25" y="361.35" width="23.00" height="3.45" fill="url(#vstripe)" stroke="#000" stroke-width="1.5" />
<rect x="78.65" y="359.95" width="23.00" height="4.85" fill="url(#dotpat)" stroke="#000" stroke-width="1.5" />
<rect x="114.85" y="362.55" width="23.00" height="2.25" fill="#a8a8a8" stroke="#000" stroke-width="1.5" />
<line x1="162.70" y1="277.00" x2="162.70" y2="283.20" stroke="#000" stroke-width="1.3" stroke-linecap="butt"/>
<line x1="156.50" y1="277.00" x2="168.90" y2="277.00" stroke="#000" stroke-width="1.3" stroke-linecap="butt"/>
<rect x="150.85" y="283.95" width="23.70" height="80.85" fill="#000" stroke="#000" stroke-width="1.5" />
<line x1="198.65" y1="301.40" x2="198.65" y2="310.10" stroke="#000" stroke-width="1.3" stroke-linecap="butt"/>
<line x1="192.45" y1="301.40" x2="204.85" y2="301.40" stroke="#000" stroke-width="1.3" stroke-linecap="butt"/>
<rect x="186.65" y="310.85" width="24.00" height="53.95" fill="#fff" stroke="#000" stroke-width="1.5" />
<line x1="53.80" y1="364.80" x2="53.80" y2="368.80" stroke="#000" stroke-width="1.3" stroke-linecap="butt"/>
<text x="53.80" y="377.30" font-size="8" font-weight="bold" text-anchor="middle" fill="#000" >Direct</text>
<text x="53.80" y="386.80" font-size="8" font-weight="bold" text-anchor="middle" fill="#000" >Kill</text>
<line x1="90.20" y1="364.80" x2="90.20" y2="368.80" stroke="#000" stroke-width="1.3" stroke-linecap="butt"/>
<text x="90.20" y="377.30" font-size="8" font-weight="bold" text-anchor="middle" fill="#000" >Sham</text>
<line x1="126.40" y1="364.80" x2="126.40" y2="368.80" stroke="#000" stroke-width="1.3" stroke-linecap="butt"/>
<text x="126.40" y="377.30" font-size="8" font-weight="bold" text-anchor="middle" fill="#000" >IPC</text>
<text x="126.40" y="386.80" font-size="8" font-weight="bold" text-anchor="middle" fill="#000" >alone</text>
<line x1="162.70" y1="364.80" x2="162.70" y2="368.80" stroke="#000" stroke-width="1.3" stroke-linecap="butt"/>
<text x="162.70" y="377.30" font-size="8" font-weight="bold" text-anchor="middle" fill="#000" >IRI</text>
<line x1="198.60" y1="364.80" x2="198.60" y2="368.80" stroke="#000" stroke-width="1.3" stroke-linecap="butt"/>
<text x="198.60" y="377.30" font-size="8" font-weight="bold" text-anchor="middle" fill="#000" >IPC/IRI</text>
<polyline points="162.00,270.50 162.00,253.80 199.10,253.80 199.10,295.60" fill="none" stroke="#3355e6" stroke-width="1.5" stroke-linejoin="miter"/>
<text x="180.70" y="249.50" font-size="9.5" font-weight="bold" text-anchor="middle" fill="#3355e6" stroke="#3355e6" stroke-width="0.4">*</text>
<line x1="466.50" y1="254.70" x2="466.50" y2="365.40" stroke="#000" stroke-width="1.6" stroke-linecap="butt"/>
<line x1="465.70" y1="364.60" x2="626.30" y2="364.60" stroke="#000" stroke-width="1.6" stroke-linecap="butt"/>
<line x1="463.00" y1="364.60" x2="466.50" y2="364.60" stroke="#000" stroke-width="1.3" stroke-linecap="butt"/>
<text x="462.50" y="367.90" font-size="8" font-weight="bold" text-anchor="end" fill="#000" >0</text>
<line x1="463.00" y1="337.33" x2="466.50" y2="337.33" stroke="#000" stroke-width="1.3" stroke-linecap="butt"/>
<text x="462.50" y="340.63" font-size="8" font-weight="bold" text-anchor="end" fill="#000" >50</text>
<line x1="463.00" y1="310.05" x2="466.50" y2="310.05" stroke="#000" stroke-width="1.3" stroke-linecap="butt"/>
<text x="462.50" y="313.35" font-size="8" font-weight="bold" text-anchor="end" fill="#000" >100</text>
<line x1="463.00" y1="282.78" x2="466.50" y2="282.78" stroke="#000" stroke-width="1.3" stroke-linecap="butt"/>
<text x="462.50" y="286.08" font-size="8" font-weight="bold" text-anchor="end" fill="#000" >150</text>
<line x1="463.00" y1="255.50" x2="466.50" y2="255.50" stroke="#000" stroke-width="1.3" stroke-linecap="butt"/>
<text x="462.50" y="258.80" font-size="8" font-weight="bold" text-anchor="end" fill="#000" >200</text>
<text transform="translate(437.3,311) rotate(-90)" font-size="9" font-weight="bold" text-anchor="middle">KIM-1 RQ (2<tspan font-size="6" dy="-3.2">-DDCt</tspan><tspan dy="3.2">)</tspan></text>
<line x1="472.00" y1="364.10" x2="491.00" y2="364.10" stroke="#000" stroke-width="1.2" stroke-linecap="butt"/>
<line x1="505.10" y1="364.10" x2="524.10" y2="364.10" stroke="#000" stroke-width="1.2" stroke-linecap="butt"/>
<line x1="537.10" y1="364.10" x2="556.10" y2="364.10" stroke="#000" stroke-width="1.2" stroke-linecap="butt"/>
<line x1="578.55" y1="276.40" x2="578.55" y2="286.20" stroke="#000" stroke-width="1.3" stroke-linecap="butt"/>
<line x1="572.95" y1="276.40" x2="584.15" y2="276.40" stroke="#000" stroke-width="1.3" stroke-linecap="butt"/>
<rect x="568.15" y="286.95" width="20.80" height="77.65" fill="#000" stroke="#000" stroke-width="1.5" />
<line x1="610.50" y1="342.50" x2="610.50" y2="344.40" stroke="#000" stroke-width="1.3" stroke-linecap="butt"/>
<line x1="604.90" y1="342.50" x2="616.10" y2="342.50" stroke="#000" stroke-width="1.3" stroke-linecap="butt"/>
<rect x="599.95" y="345.15" width="21.10" height="19.45" fill="#fff" stroke="#000" stroke-width="1.5" />
<line x1="482.40" y1="364.60" x2="482.40" y2="368.60" stroke="#000" stroke-width="1.3" stroke-linecap="butt"/>
<text x="482.40" y="377.30" font-size="8" font-weight="bold" text-anchor="middle" fill="#000" >Direct</text>
<text x="482.40" y="386.80" font-size="8" font-weight="bold" text-anchor="middle" fill="#000" >Kill</text>
<line x1="514.50" y1="364.60" x2="514.50" y2="368.60" stroke="#000" stroke-width="1.3" stroke-linecap="butt"/>
<text x="514.50" y="377.30" font-size="8" font-weight="bold" text-anchor="middle" fill="#000" >Sham</text>
<line x1="546.50" y1="364.60" x2="546.50" y2="368.60" stroke="#000" stroke-width="1.3" stroke-linecap="butt"/>
<text x="546.50" y="377.30" font-size="8" font-weight="bold" text-anchor="middle" fill="#000" >IPC</text>
<text x="546.50" y="386.80" font-size="8" font-weight="bold" text-anchor="middle" fill="#000" >alone</text>
<line x1="578.60" y1="364.60" x2="578.60" y2="368.60" stroke="#000" stroke-width="1.3" stroke-linecap="butt"/>
<text x="578.60" y="377.30" font-size="8" font-weight="bold" text-anchor="middle" fill="#000" >IRI</text>
<line x1="610.60" y1="364.60" x2="610.60" y2="368.60" stroke="#000" stroke-width="1.3" stroke-linecap="butt"/>
<text x="610.60" y="377.30" font-size="8" font-weight="bold" text-anchor="middle" fill="#000" >IPC/IRI</text>
<polyline points="577.70,267.10 577.70,252.30 611.20,252.30 611.20,335.20" fill="none" stroke="#3355e6" stroke-width="1.5" stroke-linejoin="miter"/>
<text x="595.40" y="246.00" font-size="9.3" font-weight="bold" text-anchor="middle" fill="#3355e6" stroke="#3355e6" stroke-width="0.4">***</text>
</svg>
</body></html>
